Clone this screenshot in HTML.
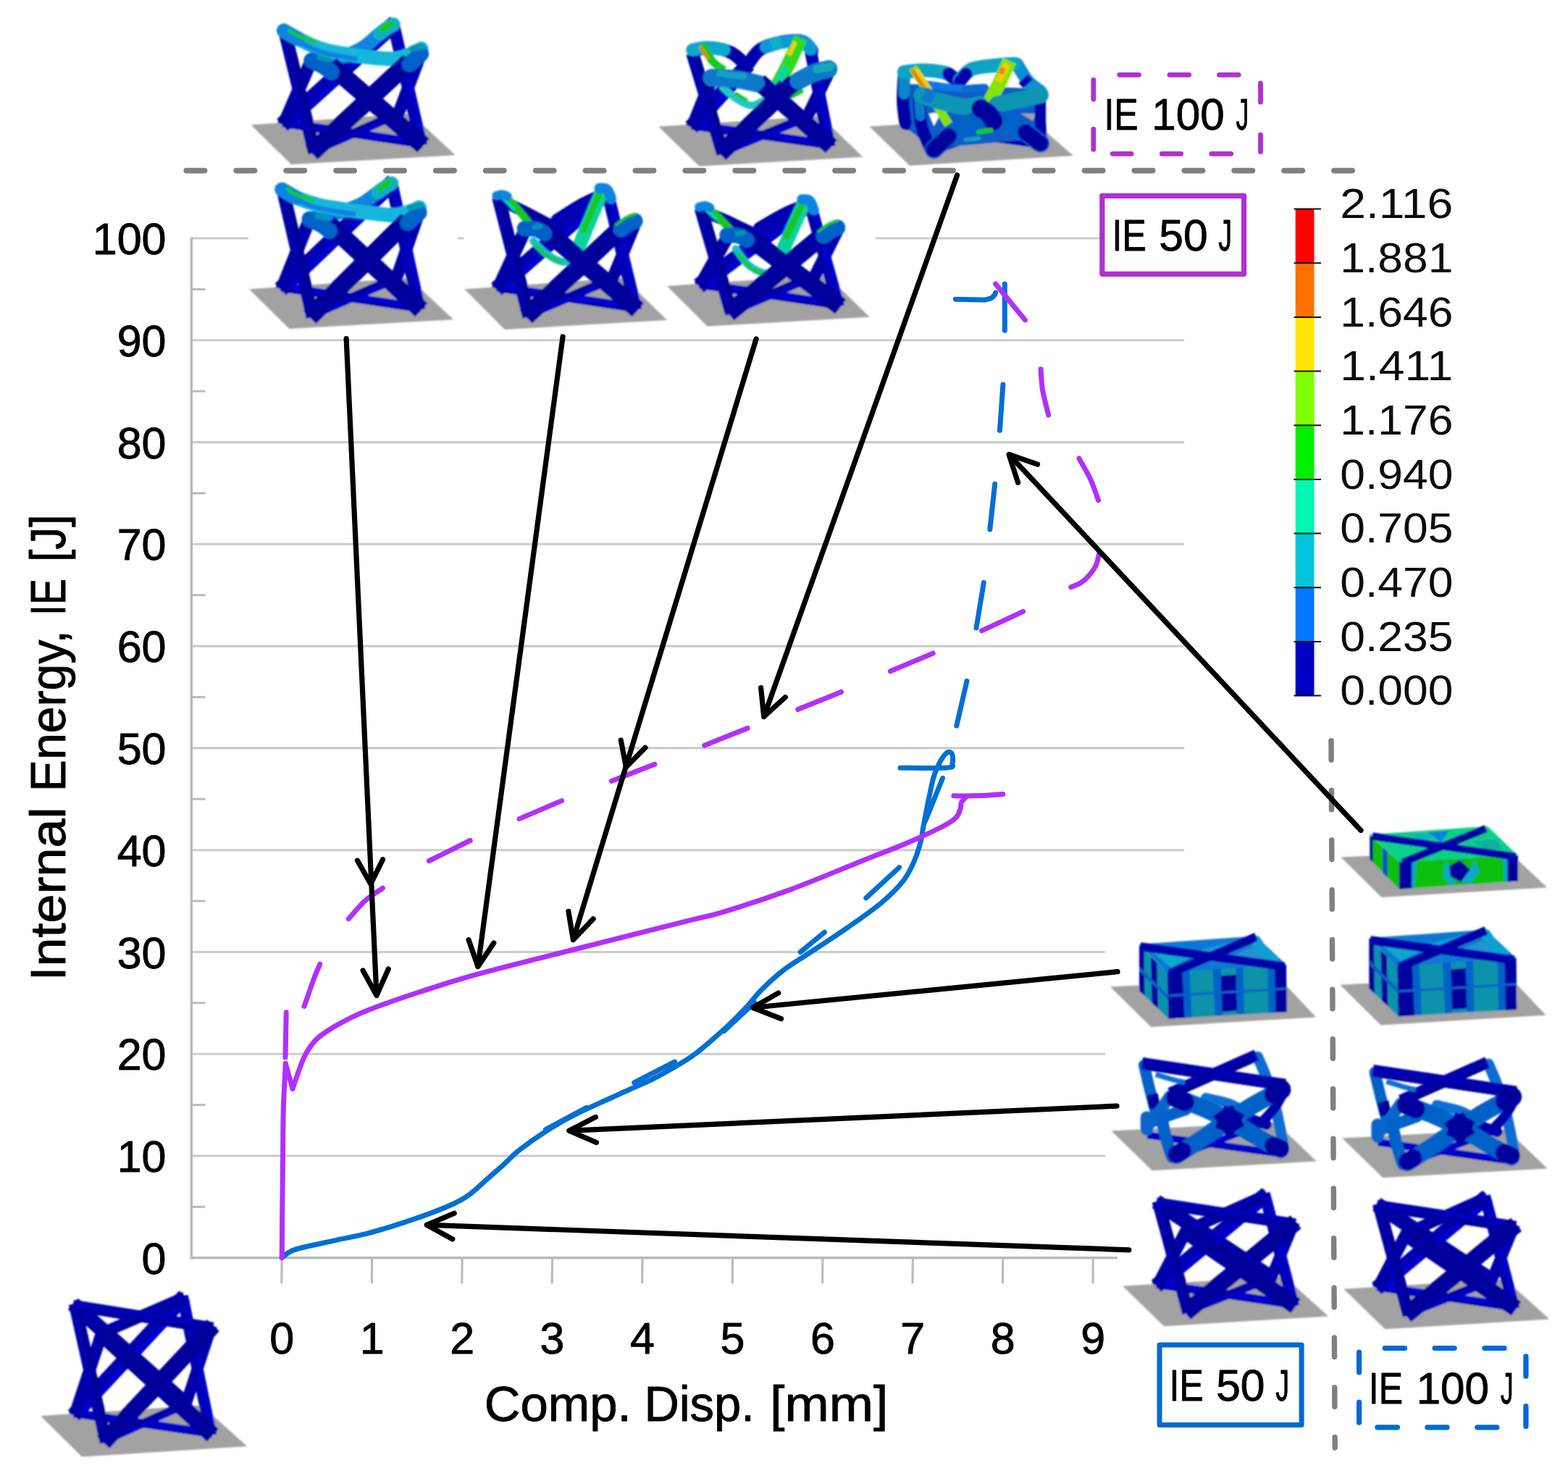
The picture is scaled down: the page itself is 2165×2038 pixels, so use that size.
<!DOCTYPE html>
<html lang="en"><head><meta charset="utf-8"><title>Internal Energy vs Compressive Displacement</title>
<style>html,body{margin:0;padding:0;background:#fff}body{width:2165px;height:2038px;overflow:hidden}svg{display:block}</style></head>
<body>
<svg width="2165" height="2038" viewBox="0 0 2165 2038" font-family="'Liberation Sans', sans-serif">
<rect width="100%" height="100%" fill="#fff"/>
<g id="grid"><line x1="265" y1="1596.0" x2="1635" y2="1596.0" stroke="#cbcbcb" stroke-width="3.1"/>
<line x1="265" y1="1455.2" x2="1635" y2="1455.2" stroke="#cbcbcb" stroke-width="3.1"/>
<line x1="265" y1="1314.5" x2="1635" y2="1314.5" stroke="#cbcbcb" stroke-width="3.1"/>
<line x1="265" y1="1173.7" x2="1635" y2="1173.7" stroke="#cbcbcb" stroke-width="3.1"/>
<line x1="265" y1="1032.9" x2="1635" y2="1032.9" stroke="#cbcbcb" stroke-width="3.1"/>
<line x1="265" y1="892.1" x2="1635" y2="892.1" stroke="#cbcbcb" stroke-width="3.1"/>
<line x1="265" y1="751.3" x2="1635" y2="751.3" stroke="#cbcbcb" stroke-width="3.1"/>
<line x1="265" y1="610.6" x2="1635" y2="610.6" stroke="#cbcbcb" stroke-width="3.1"/>
<line x1="265" y1="469.8" x2="1635" y2="469.8" stroke="#cbcbcb" stroke-width="3.1"/>
<line x1="265" y1="329.0" x2="1635" y2="329.0" stroke="#cbcbcb" stroke-width="3.1"/>
<line x1="264.3" y1="1666.4" x2="283.5" y2="1666.4" stroke="#bababa" stroke-width="3"/>
<line x1="264.3" y1="1525.6" x2="283.5" y2="1525.6" stroke="#bababa" stroke-width="3"/>
<line x1="264.3" y1="1384.8" x2="283.5" y2="1384.8" stroke="#bababa" stroke-width="3"/>
<line x1="264.3" y1="1244.1" x2="283.5" y2="1244.1" stroke="#bababa" stroke-width="3"/>
<line x1="264.3" y1="1103.3" x2="283.5" y2="1103.3" stroke="#bababa" stroke-width="3"/>
<line x1="264.3" y1="962.5" x2="283.5" y2="962.5" stroke="#bababa" stroke-width="3"/>
<line x1="264.3" y1="821.7" x2="283.5" y2="821.7" stroke="#bababa" stroke-width="3"/>
<line x1="264.3" y1="681.0" x2="283.5" y2="681.0" stroke="#bababa" stroke-width="3"/>
<line x1="264.3" y1="540.2" x2="283.5" y2="540.2" stroke="#bababa" stroke-width="3"/>
<line x1="264.3" y1="399.4" x2="283.5" y2="399.4" stroke="#bababa" stroke-width="3"/>
<line x1="264.3" y1="327.5" x2="264.3" y2="1738.6" stroke="#bababa" stroke-width="3.5"/>
<line x1="262.6" y1="1736.8" x2="1543" y2="1736.8" stroke="#bababa" stroke-width="3.6"/>
<line x1="389.2" y1="1736.8" x2="388.9" y2="1772.3" stroke="#bababa" stroke-width="3.1"/>
<line x1="513.6" y1="1736.8" x2="513.4" y2="1772.3" stroke="#bababa" stroke-width="3.1"/>
<line x1="638.1" y1="1736.8" x2="637.8" y2="1772.3" stroke="#bababa" stroke-width="3.1"/>
<line x1="762.5" y1="1736.8" x2="762.2" y2="1772.3" stroke="#bababa" stroke-width="3.1"/>
<line x1="887.0" y1="1736.8" x2="886.7" y2="1772.3" stroke="#bababa" stroke-width="3.1"/>
<line x1="1011.5" y1="1736.8" x2="1011.2" y2="1772.3" stroke="#bababa" stroke-width="3.1"/>
<line x1="1135.9" y1="1736.8" x2="1135.6" y2="1772.3" stroke="#bababa" stroke-width="3.1"/>
<line x1="1260.3" y1="1736.8" x2="1260.0" y2="1772.3" stroke="#bababa" stroke-width="3.1"/>
<line x1="1384.8" y1="1736.8" x2="1384.5" y2="1772.3" stroke="#bababa" stroke-width="3.1"/>
<line x1="1509.2" y1="1736.8" x2="1509.0" y2="1772.3" stroke="#bababa" stroke-width="3.1"/></g>
<g id="boxes"><line x1="1545.8" y1="103.3" x2="1572.5" y2="103.3" stroke="#b030d2" stroke-width="6.8" stroke-linecap="round"/>
<line x1="1615.0" y1="103.3" x2="1641.7" y2="103.3" stroke="#b030d2" stroke-width="6.8" stroke-linecap="round"/>
<line x1="1683.5" y1="103.3" x2="1710.2" y2="103.3" stroke="#b030d2" stroke-width="6.8" stroke-linecap="round"/>
<line x1="1536.2" y1="212.3" x2="1562.1" y2="212.3" stroke="#b030d2" stroke-width="6.8" stroke-linecap="round"/>
<line x1="1604.3" y1="212.3" x2="1630.6" y2="212.3" stroke="#b030d2" stroke-width="6.8" stroke-linecap="round"/>
<line x1="1672.8" y1="212.3" x2="1699.8" y2="212.3" stroke="#b030d2" stroke-width="6.8" stroke-linecap="round"/>
<line x1="1740.5" y1="115.0" x2="1740.5" y2="140.9" stroke="#b030d2" stroke-width="6.8" stroke-linecap="round"/>
<line x1="1740.5" y1="186.2" x2="1740.5" y2="209.6" stroke="#b030d2" stroke-width="6.8" stroke-linecap="round"/>
<line x1="1509.8" y1="110.4" x2="1509.8" y2="137.1" stroke="#b030d2" stroke-width="6.8" stroke-linecap="round"/>
<line x1="1509.8" y1="178.4" x2="1509.8" y2="206.3" stroke="#b030d2" stroke-width="6.8" stroke-linecap="round"/>
<rect x="1521.8" y="270.4" width="195.8" height="107.9" fill="#fff" stroke="#b030d2" stroke-width="7.2" stroke-linejoin="round"/>
<rect x="1601" y="1857.1" width="196.1" height="110.4" fill="#fff" stroke="#0069d6" stroke-width="7" stroke-linejoin="round"/>
<line x1="1912.2" y1="1861.5" x2="1939.5" y2="1861.5" stroke="#0069d6" stroke-width="7.2" stroke-linecap="round"/>
<line x1="1981.1" y1="1861.5" x2="2008.2" y2="1861.5" stroke="#0069d6" stroke-width="7.2" stroke-linecap="round"/>
<line x1="2049.9" y1="1861.5" x2="2077.1" y2="1861.5" stroke="#0069d6" stroke-width="7.2" stroke-linecap="round"/>
<line x1="1901.9" y1="1970.8" x2="1929.5" y2="1970.8" stroke="#0069d6" stroke-width="7.2" stroke-linecap="round"/>
<line x1="1970.9" y1="1970.8" x2="1998.1" y2="1970.8" stroke="#0069d6" stroke-width="7.2" stroke-linecap="round"/>
<line x1="2039.8" y1="1970.8" x2="2066.9" y2="1970.8" stroke="#0069d6" stroke-width="7.2" stroke-linecap="round"/>
<line x1="2106.9" y1="1872.8" x2="2106.9" y2="1900.2" stroke="#0069d6" stroke-width="7.2" stroke-linecap="round"/>
<line x1="2106.9" y1="1941.7" x2="2106.9" y2="1969.5" stroke="#0069d6" stroke-width="7.2" stroke-linecap="round"/>
<line x1="1876.6" y1="1867.0" x2="1876.6" y2="1894.8" stroke="#0069d6" stroke-width="7.2" stroke-linecap="round"/>
<line x1="1876.6" y1="1936.2" x2="1876.6" y2="1964.1" stroke="#0069d6" stroke-width="7.2" stroke-linecap="round"/></g>
<g id="imgbg"><rect x="343" y="240" width="289" height="222" fill="#fff"/>
<rect x="640.7" y="240" width="568" height="222" fill="#fff"/>
<rect x="1526" y="1280" width="300" height="340" fill="#fff"/>
<rect x="1543.5" y="1640" width="300" height="200" fill="#fff"/></g>
<g id="sep"><line x1="257.2" y1="235.6" x2="1868" y2="235.6" stroke="#808080" stroke-width="7.6" stroke-dasharray="25.4 43.5" stroke-linecap="round"/>
<line x1="1838" y1="1022.6" x2="1843.2" y2="1999" stroke="#808080" stroke-width="7.4" stroke-dasharray="26.6 42.1" stroke-linecap="round"/></g>
<defs><filter id="soft" x="-2%" y="-2%" width="104%" height="104%"><feGaussianBlur stdDeviation="0.8"/></filter></defs>
<g id="lattices" filter="url(#soft)"><g id="BL"><polygon points="56.1,1955.1 278.2,1940.3 341.0,1997.0 113.2,2011.4" fill="#a2a2a2" /><line x1="107.7" y1="1952.1" x2="287.1" y2="1978.4" stroke="#0000d4" stroke-width="11.6" stroke-linecap="square"/><line x1="107.2" y1="1955.4" x2="286.6" y2="1981.7" stroke="#0000b0" stroke-width="4.9" stroke-linecap="butt"/><line x1="253.1" y1="1940.5" x2="148.8" y2="1987.1" stroke="#0000c0" stroke-width="11.6" stroke-linecap="square"/><line x1="251.7" y1="1937.5" x2="147.4" y2="1984.0" stroke="#0000a4" stroke-width="4.9" stroke-linecap="butt"/><line x1="108.6" y1="1807.4" x2="251.5" y2="1934.6" stroke="#0000a4" stroke-width="20.9" stroke-linecap="square"/><line x1="247.9" y1="1797.1" x2="108.6" y2="1946.7" stroke="#0000b4" stroke-width="20.9" stroke-linecap="square"/><line x1="252.4" y1="1801.2" x2="113.1" y2="1950.8" stroke="#0000cc" stroke-width="8.8" stroke-linecap="butt"/><line x1="289.8" y1="1837.9" x2="258.1" y2="1934.2" stroke="#0000a8" stroke-width="15.8" stroke-linecap="square"/><line x1="253.5" y1="1797.2" x2="289.8" y2="1974.0" stroke="#0000b4" stroke-width="15.8" stroke-linecap="square"/><line x1="258.0" y1="1796.2" x2="294.3" y2="1973.1" stroke="#0000c8" stroke-width="6.6" stroke-linecap="butt"/><line x1="138.9" y1="1845.9" x2="105.7" y2="1946.5" stroke="#0000a8" stroke-width="16.7" stroke-linecap="square"/><line x1="104.8" y1="1808.2" x2="144.3" y2="1983.4" stroke="#0000ac" stroke-width="16.7" stroke-linecap="square"/><line x1="109.5" y1="1807.2" x2="149.0" y2="1982.3" stroke="#000098" stroke-width="7.0" stroke-linecap="butt"/><line x1="247.8" y1="1794.2" x2="145.2" y2="1838.8" stroke="#0000b0" stroke-width="15.8" stroke-linecap="square"/><line x1="249.7" y1="1798.4" x2="147.1" y2="1843.0" stroke="#000098" stroke-width="6.6" stroke-linecap="butt"/><line x1="108.6" y1="1803.8" x2="286.4" y2="1832.3" stroke="#0000b4" stroke-width="15.8" stroke-linecap="square"/><line x1="107.8" y1="1808.3" x2="285.7" y2="1836.8" stroke="#0000a0" stroke-width="6.6" stroke-linecap="butt"/><line x1="146.1" y1="1845.9" x2="285.2" y2="1973.8" stroke="#00009c" stroke-width="23.5" stroke-linecap="square"/><line x1="286.3" y1="1838.6" x2="150.6" y2="1983.1" stroke="#00009c" stroke-width="23.5" stroke-linecap="square"/></g>
<g id="R50_3"><polygon points="1550.1,1775.7 1773.1,1762.3 1834.2,1817.5 1607.3,1831.2" fill="#a2a2a2" /><line x1="1602.9" y1="1773.8" x2="1781.9" y2="1800.4" stroke="#0000d4" stroke-width="11.6" stroke-linecap="square"/><line x1="1602.4" y1="1777.1" x2="1781.5" y2="1803.7" stroke="#0000b0" stroke-width="4.9" stroke-linecap="butt"/><line x1="1751.9" y1="1765.8" x2="1643.2" y2="1808.6" stroke="#0000c0" stroke-width="11.6" stroke-linecap="square"/><line x1="1750.7" y1="1762.6" x2="1642.0" y2="1805.5" stroke="#0000a4" stroke-width="4.9" stroke-linecap="butt"/><line x1="1605.1" y1="1665.1" x2="1749.8" y2="1760.7" stroke="#0000a4" stroke-width="20.9" stroke-linecap="square"/><line x1="1741.4" y1="1654.9" x2="1604.4" y2="1769.0" stroke="#0000b4" stroke-width="20.9" stroke-linecap="square"/><line x1="1745.2" y1="1659.6" x2="1608.2" y2="1773.6" stroke="#0000cc" stroke-width="8.8" stroke-linecap="butt"/><line x1="1784.0" y1="1694.5" x2="1757.3" y2="1759.7" stroke="#0000a8" stroke-width="15.8" stroke-linecap="square"/><line x1="1747.8" y1="1655.5" x2="1784.3" y2="1796.1" stroke="#0000b4" stroke-width="15.8" stroke-linecap="square"/><line x1="1752.2" y1="1654.3" x2="1788.8" y2="1794.9" stroke="#0000c8" stroke-width="6.6" stroke-linecap="butt"/><line x1="1635.1" y1="1704.3" x2="1601.7" y2="1768.5" stroke="#0000a8" stroke-width="16.7" stroke-linecap="square"/><line x1="1600.9" y1="1666.6" x2="1638.4" y2="1804.8" stroke="#0000ac" stroke-width="16.7" stroke-linecap="square"/><line x1="1605.6" y1="1665.3" x2="1643.1" y2="1803.5" stroke="#000098" stroke-width="7.0" stroke-linecap="butt"/><line x1="1741.9" y1="1652.7" x2="1642.1" y2="1697.5" stroke="#0000b0" stroke-width="15.8" stroke-linecap="square"/><line x1="1743.8" y1="1656.8" x2="1644.0" y2="1701.6" stroke="#000098" stroke-width="6.6" stroke-linecap="butt"/><line x1="1604.5" y1="1662.2" x2="1780.9" y2="1689.1" stroke="#0000b4" stroke-width="15.8" stroke-linecap="square"/><line x1="1603.8" y1="1666.7" x2="1780.3" y2="1693.6" stroke="#0000a0" stroke-width="6.6" stroke-linecap="butt"/><line x1="1643.7" y1="1703.8" x2="1779.4" y2="1796.7" stroke="#00009c" stroke-width="23.5" stroke-linecap="square"/><line x1="1780.1" y1="1694.7" x2="1645.6" y2="1805.2" stroke="#00009c" stroke-width="23.5" stroke-linecap="square"/></g>
<g id="R100_3"><polygon points="1855.3,1779.7 2078.2,1766.3 2139.4,1821.5 1912.4,1835.2" fill="#a2a2a2" /><line x1="1907.2" y1="1777.3" x2="2086.3" y2="1803.9" stroke="#0000d4" stroke-width="11.6" stroke-linecap="square"/><line x1="1906.8" y1="1780.7" x2="2085.8" y2="1807.3" stroke="#0000b0" stroke-width="4.9" stroke-linecap="butt"/><line x1="2056.3" y1="1769.3" x2="1947.6" y2="1812.1" stroke="#0000c0" stroke-width="11.6" stroke-linecap="square"/><line x1="2055.0" y1="1766.2" x2="1946.4" y2="1809.0" stroke="#0000a4" stroke-width="4.9" stroke-linecap="butt"/><line x1="1909.5" y1="1668.6" x2="2054.1" y2="1764.3" stroke="#0000a4" stroke-width="20.9" stroke-linecap="square"/><line x1="2045.7" y1="1658.4" x2="1908.7" y2="1772.5" stroke="#0000b4" stroke-width="20.9" stroke-linecap="square"/><line x1="2049.6" y1="1663.1" x2="1912.6" y2="1777.2" stroke="#0000cc" stroke-width="8.8" stroke-linecap="butt"/><line x1="2088.4" y1="1698.1" x2="2061.6" y2="1763.3" stroke="#0000a8" stroke-width="15.8" stroke-linecap="square"/><line x1="2052.1" y1="1659.0" x2="2088.7" y2="1799.6" stroke="#0000b4" stroke-width="15.8" stroke-linecap="square"/><line x1="2056.6" y1="1657.9" x2="2093.1" y2="1798.4" stroke="#0000c8" stroke-width="6.6" stroke-linecap="butt"/><line x1="1939.4" y1="1707.8" x2="1906.1" y2="1772.0" stroke="#0000a8" stroke-width="16.7" stroke-linecap="square"/><line x1="1905.3" y1="1670.1" x2="1942.7" y2="1808.3" stroke="#0000ac" stroke-width="16.7" stroke-linecap="square"/><line x1="1910.0" y1="1668.8" x2="1947.4" y2="1807.1" stroke="#000098" stroke-width="7.0" stroke-linecap="butt"/><line x1="2046.3" y1="1656.2" x2="1946.5" y2="1701.0" stroke="#0000b0" stroke-width="15.8" stroke-linecap="square"/><line x1="2048.1" y1="1660.4" x2="1948.4" y2="1705.2" stroke="#000098" stroke-width="6.6" stroke-linecap="butt"/><line x1="1908.9" y1="1665.7" x2="2085.3" y2="1692.7" stroke="#0000b4" stroke-width="15.8" stroke-linecap="square"/><line x1="1908.2" y1="1670.2" x2="2084.6" y2="1697.2" stroke="#0000a0" stroke-width="6.6" stroke-linecap="butt"/><line x1="1948.1" y1="1707.3" x2="2083.8" y2="1800.2" stroke="#00009c" stroke-width="23.5" stroke-linecap="square"/><line x1="2084.5" y1="1698.2" x2="1950.0" y2="1808.7" stroke="#00009c" stroke-width="23.5" stroke-linecap="square"/></g>
<g id="M1"><polygon points="343.9,399.3 564.6,383.6 626.1,441.2 399.5,454.0" fill="#a2a2a2" /><line x1="394.0" y1="397.3" x2="574.7" y2="424.4" stroke="#0000d4" stroke-width="12.3" stroke-linecap="square"/><line x1="393.5" y1="400.9" x2="574.2" y2="427.9" stroke="#0000b0" stroke-width="5.2" stroke-linecap="butt"/><line x1="543.9" y1="385.5" x2="434.4" y2="433.3" stroke="#0000c0" stroke-width="12.3" stroke-linecap="square"/><line x1="542.4" y1="382.2" x2="433.0" y2="430.0" stroke="#0000a4" stroke-width="5.2" stroke-linecap="butt"/><line x1="535.5" y1="258.0" x2="395.3" y2="391.8" stroke="#0000b4" stroke-width="22.2" stroke-linecap="square"/><line x1="539.9" y1="262.7" x2="399.7" y2="396.5" stroke="#0000cc" stroke-width="9.3" stroke-linecap="butt"/><line x1="576.8" y1="298.7" x2="549.2" y2="378.9" stroke="#0000a8" stroke-width="16.8" stroke-linecap="square"/><line x1="541.8" y1="258.3" x2="577.4" y2="419.7" stroke="#0000b4" stroke-width="16.8" stroke-linecap="square"/><line x1="546.5" y1="257.3" x2="582.2" y2="418.7" stroke="#0000c8" stroke-width="7.0" stroke-linecap="butt"/><line x1="425.3" y1="308.0" x2="392.2" y2="391.5" stroke="#0000a8" stroke-width="17.8" stroke-linecap="square"/><line x1="391.8" y1="268.0" x2="429.5" y2="429.3" stroke="#0000ac" stroke-width="17.8" stroke-linecap="square"/><line x1="396.8" y1="266.9" x2="434.5" y2="428.2" stroke="#000098" stroke-width="7.5" stroke-linecap="butt"/><path d="M540.6,253.1C537.8,254.9 530.4,259.5 523.5,264.2C516.7,268.9 507.8,276.7 499.6,281.3C491.3,285.9 482.5,288.6 473.9,291.6C465.4,294.6 455.7,297.7 448.3,299.3C440.9,300.8 432.6,300.7 429.5,301.0" fill="none" stroke="#0a84e0" stroke-width="18.8" stroke-linecap="round" stroke-linejoin="round" /><path d="M540.6,253.1C538.9,254.1 533.5,256.9 530.4,259.1C527.2,261.2 523.2,264.8 521.8,265.9" fill="none" stroke="#10b0c8" stroke-width="18.8" stroke-linecap="round" stroke-linejoin="round" /><path d="M537.2,251.4C535.2,252.8 527.2,258.5 525.2,259.9" fill="none" stroke="#14c81c" stroke-width="8.6" stroke-linecap="round" stroke-linejoin="round" /><path d="M389.3,261.6C392.5,263.5 400.5,269.2 408.9,272.8C417.3,276.3 428.9,280.3 439.7,283.0C450.5,285.7 462.5,287.2 473.9,289.0C485.3,290.8 496.7,292.3 508.1,293.6C519.5,295.0 532.9,297.2 542.3,297.0C551.7,296.8 558.4,294.2 564.6,292.4C570.7,290.7 576.7,287.4 579.1,286.4" fill="none" stroke="#12b6dc" stroke-width="19.8" stroke-linecap="round" stroke-linejoin="round" /><path d="M408.9,276.2C414.1,278.0 428.9,284.4 439.7,287.3C450.5,290.1 465.4,291.9 473.9,293.3C482.5,294.7 488.2,295.4 491.0,295.8" fill="none" stroke="#0a84e0" stroke-width="6.8" stroke-linecap="butt" stroke-linejoin="round" /><path d="M389.3,261.6C390.5,262.4 393.7,264.1 397.0,265.9C400.2,267.8 406.9,271.6 408.9,272.8" fill="none" stroke="#0a84e0" stroke-width="19.8" stroke-linecap="round" stroke-linejoin="round" /><path d="M397.0,261.6C399.5,263.1 406.4,267.6 412.4,270.2C418.3,272.8 429.5,275.9 432.9,277.0" fill="none" stroke="#14c81c" stroke-width="5.1" stroke-linecap="round" stroke-linejoin="round" /><line x1="462.7" y1="317.2" x2="572.7" y2="419.5" stroke="#00009c" stroke-width="25.0" stroke-linecap="square"/><line x1="553.8" y1="312.9" x2="436.5" y2="429.3" stroke="#00009c" stroke-width="25.0" stroke-linecap="square"/><path d="M427.4,302.7C430.0,304.0 438.5,307.7 443.1,310.4C447.8,313.1 453.1,317.5 455.1,318.9" fill="none" stroke="#0062c8" stroke-width="21.9" stroke-linecap="round" stroke-linejoin="round" /><path d="M578.6,293.6C577.1,295.0 572.3,299.5 569.7,301.8C567.1,304.2 564.0,306.8 562.9,307.8" fill="none" stroke="#0062c8" stroke-width="21.9" stroke-linecap="round" stroke-linejoin="round" /><path d="M566.3,286.4C568.6,286.0 577.7,284.3 580.0,283.9" fill="none" stroke="#0096ae" stroke-width="8.6" stroke-linecap="round" stroke-linejoin="round" /><path d="M438.0,298.4C440.0,299.0 448.0,301.3 450.0,301.8" fill="none" stroke="#0096ae" stroke-width="6.8" stroke-linecap="round" stroke-linejoin="round" /></g>
<g id="T1"><polygon points="346.5,172.4 567.1,156.7 628.7,214.3 402.1,227.1" fill="#a2a2a2" /><line x1="396.6" y1="170.4" x2="577.3" y2="197.5" stroke="#0000d4" stroke-width="12.3" stroke-linecap="square"/><line x1="396.1" y1="173.9" x2="576.7" y2="201.0" stroke="#0000b0" stroke-width="5.2" stroke-linecap="butt"/><line x1="546.4" y1="158.6" x2="437.0" y2="206.4" stroke="#0000c0" stroke-width="12.3" stroke-linecap="square"/><line x1="545.0" y1="155.3" x2="435.6" y2="203.1" stroke="#0000a4" stroke-width="5.2" stroke-linecap="butt"/><line x1="537.9" y1="38.6" x2="398.0" y2="165.1" stroke="#0000b4" stroke-width="22.2" stroke-linecap="square"/><line x1="542.2" y1="43.4" x2="402.3" y2="169.8" stroke="#0000cc" stroke-width="9.3" stroke-linecap="butt"/><line x1="579.3" y1="79.4" x2="551.9" y2="152.0" stroke="#0000a8" stroke-width="16.8" stroke-linecap="square"/><line x1="544.4" y1="39.1" x2="579.9" y2="192.8" stroke="#0000b4" stroke-width="16.8" stroke-linecap="square"/><line x1="549.1" y1="38.0" x2="584.7" y2="191.7" stroke="#0000c8" stroke-width="7.0" stroke-linecap="butt"/><line x1="427.7" y1="88.7" x2="394.9" y2="164.6" stroke="#0000a8" stroke-width="17.8" stroke-linecap="square"/><line x1="394.4" y1="48.8" x2="432.0" y2="202.4" stroke="#0000ac" stroke-width="17.8" stroke-linecap="square"/><line x1="399.4" y1="47.6" x2="437.0" y2="201.2" stroke="#000098" stroke-width="7.5" stroke-linecap="butt"/><path d="M543.2,33.9C540.3,35.7 532.9,39.8 526.1,45.0C519.2,50.2 510.4,59.6 502.1,65.0C493.9,70.3 485.0,74.1 476.5,77.1C467.9,80.2 458.2,82.6 450.8,83.4C443.4,84.2 435.2,82.0 432.0,81.8" fill="none" stroke="#0a84e0" stroke-width="18.8" stroke-linecap="round" stroke-linejoin="round" /><path d="M543.2,33.9C541.5,34.9 536.1,37.7 532.9,39.8C529.8,42.0 525.8,45.5 524.4,46.7" fill="none" stroke="#10b0c8" stroke-width="18.8" stroke-linecap="round" stroke-linejoin="round" /><path d="M539.8,32.2C537.8,33.6 529.8,39.3 527.8,40.7" fill="none" stroke="#14c81c" stroke-width="8.6" stroke-linecap="round" stroke-linejoin="round" /><path d="M391.8,42.4C395.1,44.3 403.1,49.4 411.5,53.5C419.9,57.7 431.5,63.6 442.3,67.1C453.1,70.7 465.1,72.6 476.5,74.6C487.9,76.6 499.3,78.1 510.7,79.2C522.1,80.3 535.5,81.9 544.9,81.2C554.3,80.4 561.0,77.0 567.1,74.6C573.3,72.3 579.2,68.5 581.7,67.2" fill="none" stroke="#12b6dc" stroke-width="19.8" stroke-linecap="round" stroke-linejoin="round" /><path d="M411.5,57.0C416.6,59.4 431.5,67.8 442.3,71.4C453.1,75.1 467.9,77.2 476.5,78.8C485.0,80.5 490.7,81.0 493.6,81.4" fill="none" stroke="#0a84e0" stroke-width="6.8" stroke-linecap="butt" stroke-linejoin="round" /><path d="M391.8,42.4C393.1,43.1 396.2,44.8 399.5,46.7C402.8,48.5 409.5,52.4 411.5,53.5" fill="none" stroke="#0a84e0" stroke-width="19.8" stroke-linecap="round" stroke-linejoin="round" /><path d="M399.5,42.4C402.1,43.8 408.9,48.4 414.9,51.0C420.9,53.5 432.0,56.7 435.4,57.8" fill="none" stroke="#14c81c" stroke-width="5.1" stroke-linecap="round" stroke-linejoin="round" /><line x1="465.4" y1="97.8" x2="575.1" y2="192.8" stroke="#00009c" stroke-width="25.0" stroke-linecap="square"/><line x1="556.2" y1="93.5" x2="439.2" y2="202.5" stroke="#00009c" stroke-width="25.0" stroke-linecap="square"/><path d="M430.0,83.5C432.6,84.7 441.1,88.4 445.7,91.2C450.3,93.9 455.7,98.3 457.7,99.7" fill="none" stroke="#0062c8" stroke-width="21.9" stroke-linecap="round" stroke-linejoin="round" /><path d="M581.2,74.4C579.7,75.8 574.9,80.2 572.3,82.6C569.6,85.0 566.6,87.6 565.4,88.6" fill="none" stroke="#0062c8" stroke-width="21.9" stroke-linecap="round" stroke-linejoin="round" /><path d="M568.8,67.2C571.1,66.8 580.2,65.1 582.5,64.6" fill="none" stroke="#0096ae" stroke-width="8.6" stroke-linecap="round" stroke-linejoin="round" /><path d="M440.6,79.2C442.6,79.8 450.5,82.0 452.5,82.6" fill="none" stroke="#0096ae" stroke-width="6.8" stroke-linecap="round" stroke-linejoin="round" /></g>
<g id="M2"><polygon points="641.4,399.3 861.1,383.6 921.0,442.1 697.0,454.9" fill="#a2a2a2" /><line x1="692.3" y1="397.3" x2="873.5" y2="424.4" stroke="#0000d4" stroke-width="12.3" stroke-linecap="square"/><line x1="691.8" y1="400.9" x2="873.0" y2="427.9" stroke="#0000b0" stroke-width="5.2" stroke-linecap="butt"/><line x1="842.1" y1="386.3" x2="733.1" y2="432.8" stroke="#0000c0" stroke-width="12.3" stroke-linecap="square"/><line x1="840.7" y1="383.0" x2="731.7" y2="429.5" stroke="#0000a4" stroke-width="5.2" stroke-linecap="butt"/><line x1="833.2" y1="269.8" x2="693.8" y2="392.1" stroke="#0000b4" stroke-width="22.2" stroke-linecap="square"/><line x1="837.5" y1="274.6" x2="698.0" y2="396.9" stroke="#0000cc" stroke-width="9.3" stroke-linecap="butt"/><line x1="875.4" y1="312.8" x2="847.8" y2="379.8" stroke="#0000a8" stroke-width="16.8" stroke-linecap="square"/><line x1="839.8" y1="270.3" x2="876.1" y2="419.8" stroke="#0000b4" stroke-width="16.8" stroke-linecap="square"/><line x1="844.6" y1="269.1" x2="880.9" y2="418.6" stroke="#0000c8" stroke-width="7.0" stroke-linecap="butt"/><line x1="722.8" y1="322.4" x2="690.8" y2="391.6" stroke="#0000a8" stroke-width="17.8" stroke-linecap="square"/><line x1="690.2" y1="280.8" x2="728.0" y2="428.9" stroke="#0000ac" stroke-width="17.8" stroke-linecap="square"/><line x1="695.2" y1="279.6" x2="733.0" y2="427.6" stroke="#000098" stroke-width="7.5" stroke-linecap="butt"/><path d="M688.8,274.8C694.4,277.6 710.4,285.4 722.6,291.6C734.8,297.8 755.4,308.7 762.0,312.1" fill="none" stroke="#0000a4" stroke-width="16.4" stroke-linecap="round" stroke-linejoin="round" /><path d="M838.6,265.1C832.9,267.8 816.3,274.9 804.7,281.3C793.1,287.7 774.8,299.8 768.8,303.5" fill="none" stroke="#0000b0" stroke-width="16.4" stroke-linecap="round" stroke-linejoin="round" /><path d="M736.3,332.6C739.1,335.5 747.1,345.0 753.4,349.7C759.7,354.4 768.1,359.0 773.9,360.8C779.8,362.7 786.0,360.8 788.5,360.8" fill="none" stroke="#18c0c8" stroke-width="10.3" stroke-linecap="round" stroke-linejoin="round" /><path d="M739.7,339.5C742.6,341.9 751.1,350.3 756.8,354.0C762.5,357.7 771.1,360.4 773.9,361.7" fill="none" stroke="#14c81c" stroke-width="4.4" stroke-linecap="round" stroke-linejoin="round" /><path d="M697.0,271.0C699.5,273.6 706.7,280.2 712.4,286.4C718.1,292.7 728.0,305.0 731.2,308.7" fill="none" stroke="#14c81c" stroke-width="10.6" stroke-linecap="round" stroke-linejoin="round" /><path d="M693.5,272.8C696.1,275.5 706.4,286.3 708.9,289.0" fill="none" stroke="#00d8b4" stroke-width="4.1" stroke-linecap="round" stroke-linejoin="round" /><path d="M832.9,259.9C830.2,266.3 822.7,284.0 816.7,298.4C810.7,312.8 800.3,338.3 797.0,346.3" fill="none" stroke="#10d0a0" stroke-width="19.2" stroke-linecap="butt" stroke-linejoin="round" /><path d="M829.5,262.5C827.1,268.2 819.1,287.0 815.0,296.7C810.8,306.4 806.4,316.7 804.7,320.6" fill="none" stroke="#14c81c" stroke-width="8.6" stroke-linecap="butt" stroke-linejoin="round" /><path d="M685.8,270.2C687.1,269.9 691.1,268.3 693.5,268.5C696.0,268.6 699.2,270.6 700.4,271.0" fill="none" stroke="#0a84e0" stroke-width="12.7" stroke-linecap="round" stroke-linejoin="round" /><path d="M827.8,259.9C829.5,260.2 835.4,259.2 838.1,261.6C840.8,264.1 843.0,272.3 844.0,274.5" fill="none" stroke="#0a84e0" stroke-width="14.4" stroke-linecap="round" stroke-linejoin="round" /><line x1="761.1" y1="324.2" x2="871.4" y2="419.7" stroke="#00009c" stroke-width="25.0" stroke-linecap="square"/><line x1="851.0" y1="321.0" x2="735.3" y2="428.9" stroke="#00009c" stroke-width="25.0" stroke-linecap="square"/><path d="M724.3,315.5C726.9,315.7 735.2,315.2 739.7,316.4C744.3,317.5 749.7,321.4 751.7,322.4" fill="none" stroke="#0062c8" stroke-width="21.2" stroke-linecap="round" stroke-linejoin="round" /><path d="M876.5,305.3C874.8,306.1 869.4,308.5 866.3,310.4C863.1,312.2 859.2,315.4 857.7,316.4" fill="none" stroke="#0062c8" stroke-width="22.2" stroke-linecap="round" stroke-linejoin="round" /><path d="M738.0,313.8C739.4,313.5 745.1,312.4 746.6,312.1" fill="none" stroke="#0096ae" stroke-width="6.8" stroke-linecap="round" stroke-linejoin="round" /><path d="M850.9,310.4C853.2,308.7 860.3,302.5 864.6,300.1C868.8,297.7 874.5,296.6 876.5,295.8" fill="none" stroke="#14c81c" stroke-width="3.8" stroke-linecap="round" stroke-linejoin="round" /></g>
<g id="M3"><polygon points="921.0,395.0 1140.8,379.3 1200.7,437.8 976.6,450.6" fill="#a2a2a2" /><line x1="972.0" y1="393.1" x2="1153.2" y2="420.1" stroke="#0000d4" stroke-width="12.3" stroke-linecap="square"/><line x1="971.4" y1="396.6" x2="1152.6" y2="423.6" stroke="#0000b0" stroke-width="5.2" stroke-linecap="butt"/><line x1="1121.8" y1="382.0" x2="1012.7" y2="428.6" stroke="#0000c0" stroke-width="12.3" stroke-linecap="square"/><line x1="1120.4" y1="378.8" x2="1011.3" y2="425.3" stroke="#0000a4" stroke-width="5.2" stroke-linecap="butt"/><line x1="1112.5" y1="284.9" x2="973.8" y2="388.2" stroke="#0000b4" stroke-width="22.2" stroke-linecap="square"/><line x1="1116.4" y1="290.0" x2="977.6" y2="393.4" stroke="#0000cc" stroke-width="9.3" stroke-linecap="butt"/><line x1="1154.7" y1="321.7" x2="1127.8" y2="375.7" stroke="#0000a8" stroke-width="16.8" stroke-linecap="square"/><line x1="1119.7" y1="285.8" x2="1155.6" y2="415.5" stroke="#0000b4" stroke-width="16.8" stroke-linecap="square"/><line x1="1124.3" y1="284.5" x2="1160.3" y2="414.2" stroke="#0000c8" stroke-width="7.0" stroke-linecap="butt"/><line x1="1002.1" y1="331.3" x2="970.8" y2="387.5" stroke="#0000a8" stroke-width="17.8" stroke-linecap="square"/><line x1="970.0" y1="296.3" x2="1007.5" y2="424.6" stroke="#0000ac" stroke-width="17.8" stroke-linecap="square"/><line x1="975.0" y1="294.9" x2="1012.5" y2="423.2" stroke="#000098" stroke-width="7.5" stroke-linecap="butt"/><path d="M968.4,290.4C974.1,292.7 990.1,299.1 1002.3,304.5C1014.5,310.0 1035.1,320.0 1041.6,323.1" fill="none" stroke="#0000a4" stroke-width="16.4" stroke-linecap="round" stroke-linejoin="round" /><path d="M1118.2,280.6C1112.6,282.9 1096.0,288.6 1084.4,294.3C1072.7,299.9 1054.4,311.2 1048.5,314.6" fill="none" stroke="#0000b0" stroke-width="16.4" stroke-linecap="round" stroke-linejoin="round" /><path d="M1016.0,343.7C1018.8,347.4 1026.8,360.1 1033.1,365.6C1039.3,371.1 1047.7,374.9 1053.6,376.7C1059.4,378.6 1065.7,376.7 1068.1,376.7" fill="none" stroke="#18c0c8" stroke-width="10.3" stroke-linecap="round" stroke-linejoin="round" /><path d="M1019.4,350.6C1022.2,353.8 1030.8,365.4 1036.5,369.9C1042.2,374.4 1050.7,376.3 1053.6,377.6" fill="none" stroke="#14c81c" stroke-width="4.4" stroke-linecap="round" stroke-linejoin="round" /><path d="M976.6,286.6C979.2,288.9 986.3,294.5 992.0,300.1C997.7,305.6 1007.7,316.4 1010.8,319.7" fill="none" stroke="#14c81c" stroke-width="10.6" stroke-linecap="round" stroke-linejoin="round" /><path d="M973.2,288.3C975.8,290.7 986.0,300.2 988.6,302.6" fill="none" stroke="#00d8b4" stroke-width="4.1" stroke-linecap="round" stroke-linejoin="round" /><path d="M1112.6,275.5C1109.9,281.4 1102.3,297.4 1096.3,310.7C1090.4,324.0 1079.9,347.9 1076.7,355.4" fill="none" stroke="#10d0a0" stroke-width="19.2" stroke-linecap="butt" stroke-linejoin="round" /><path d="M1109.2,278.1C1106.7,283.2 1098.8,300.4 1094.6,309.0C1090.5,317.6 1086.1,326.3 1084.4,329.7" fill="none" stroke="#14c81c" stroke-width="8.6" stroke-linecap="butt" stroke-linejoin="round" /><path d="M965.5,285.8C966.8,285.5 970.8,283.9 973.2,284.0C975.6,284.2 978.9,286.2 980.0,286.6" fill="none" stroke="#0a84e0" stroke-width="12.7" stroke-linecap="round" stroke-linejoin="round" /><path d="M1107.5,275.5C1109.2,275.8 1115.0,274.8 1117.7,277.2C1120.4,279.6 1122.7,287.9 1123.7,290.0" fill="none" stroke="#0a84e0" stroke-width="14.4" stroke-linecap="round" stroke-linejoin="round" /><line x1="1041.1" y1="332.8" x2="1150.7" y2="415.9" stroke="#00009c" stroke-width="25.0" stroke-linecap="square"/><line x1="1130.4" y1="329.7" x2="1015.3" y2="425.0" stroke="#00009c" stroke-width="25.0" stroke-linecap="square"/><path d="M1004.0,324.6C1006.5,324.7 1014.8,324.3 1019.4,325.4C1023.9,326.6 1029.4,330.4 1031.3,331.4" fill="none" stroke="#0062c8" stroke-width="21.2" stroke-linecap="round" stroke-linejoin="round" /><path d="M1156.2,314.3C1154.5,315.2 1149.1,317.6 1145.9,319.4C1142.8,321.3 1138.8,324.4 1137.4,325.4" fill="none" stroke="#0062c8" stroke-width="22.2" stroke-linecap="round" stroke-linejoin="round" /><path d="M1017.7,322.9C1019.1,322.6 1024.8,321.4 1026.2,321.2" fill="none" stroke="#0096ae" stroke-width="6.8" stroke-linecap="round" stroke-linejoin="round" /><path d="M1130.5,319.4C1132.8,317.7 1139.9,311.6 1144.2,309.2C1148.5,306.8 1154.2,305.6 1156.2,304.9" fill="none" stroke="#14c81c" stroke-width="3.8" stroke-linecap="round" stroke-linejoin="round" /></g>
<g id="T2"><polygon points="909.1,174.8 1133.1,160.2 1191.3,216.7 965.5,229.5" fill="#a2a2a2" /><line x1="960.9" y1="173.6" x2="1140.8" y2="199.0" stroke="#0000d4" stroke-width="12.3" stroke-linecap="square"/><line x1="960.4" y1="177.2" x2="1140.3" y2="202.6" stroke="#0000b0" stroke-width="5.2" stroke-linecap="butt"/><line x1="1110.7" y1="163.4" x2="1000.8" y2="208.0" stroke="#0000c0" stroke-width="12.3" stroke-linecap="square"/><line x1="1109.3" y1="160.1" x2="999.5" y2="204.7" stroke="#0000a4" stroke-width="5.2" stroke-linecap="butt"/><line x1="1025.9" y1="96.9" x2="961.6" y2="168.0" stroke="#0000b4" stroke-width="21.5" stroke-linecap="square"/><line x1="1030.5" y1="101.1" x2="966.2" y2="172.2" stroke="#0000cc" stroke-width="9.1" stroke-linecap="butt"/><line x1="1141.9" y1="105.2" x2="1116.7" y2="157.1" stroke="#0000a8" stroke-width="16.8" stroke-linecap="square"/><line x1="1120.5" y1="76.6" x2="1143.7" y2="194.3" stroke="#0000b4" stroke-width="16.8" stroke-linecap="square"/><line x1="1125.2" y1="75.6" x2="1148.5" y2="193.4" stroke="#0000c8" stroke-width="7.0" stroke-linecap="butt"/><line x1="980.5" y1="114.2" x2="959.1" y2="167.8" stroke="#0000a8" stroke-width="17.8" stroke-linecap="square"/><line x1="958.6" y1="81.9" x2="995.5" y2="204.0" stroke="#0000ac" stroke-width="17.8" stroke-linecap="square"/><line x1="963.5" y1="80.4" x2="1000.4" y2="202.6" stroke="#000098" stroke-width="7.5" stroke-linecap="butt"/><path d="M957.0,69.6C961.2,69.0 973.8,65.6 982.6,66.2C991.5,66.7 1002.0,69.0 1010.0,73.0C1018.0,77.0 1027.1,87.3 1030.5,90.1" fill="none" stroke="#0000a8" stroke-width="17.8" stroke-linecap="round" stroke-linejoin="round" /><path d="M956.1,68.7C959.4,68.2 968.5,65.3 975.8,65.3C983.0,65.3 995.7,68.2 999.7,68.7" fill="none" stroke="#10a8d0" stroke-width="17.8" stroke-linecap="round" stroke-linejoin="round" /><path d="M1121.1,69.6C1118.9,67.5 1114.9,58.6 1107.5,56.8C1100.1,54.9 1086.4,56.5 1076.7,58.5C1067.0,60.5 1056.6,63.8 1049.3,68.7C1042.0,73.7 1035.8,85.1 1033.1,88.4" fill="none" stroke="#0000ac" stroke-width="17.8" stroke-linecap="round" stroke-linejoin="round" /><path d="M1119.4,67.9C1117.4,66.0 1113.7,58.4 1107.5,56.8C1101.2,55.1 1090.1,56.6 1081.8,58.0C1073.5,59.3 1061.9,63.7 1057.9,64.8" fill="none" stroke="#1098d8" stroke-width="17.8" stroke-linecap="round" stroke-linejoin="round" /><path d="M1078.4,58.0C1076.1,58.6 1067.0,61.2 1064.7,61.9" fill="none" stroke="#10b0c8" stroke-width="17.1" stroke-linecap="butt" stroke-linejoin="round" /><path d="M968.9,61.9C971.5,65.7 979.2,79.1 984.3,85.0C989.5,90.8 997.2,95.0 999.7,97.0" fill="none" stroke="#14c81c" stroke-width="10.9" stroke-linecap="butt" stroke-linejoin="round" /><path d="M966.4,63.6C968.4,66.6 976.3,78.6 978.3,81.6" fill="none" stroke="#f07c00" stroke-width="4.1" stroke-linecap="butt" stroke-linejoin="round" /><path d="M1105.8,52.5C1102.9,58.5 1094.2,77.3 1088.7,88.4C1083.1,99.5 1075.1,114.1 1072.4,119.2" fill="none" stroke="#30d820" stroke-width="19.2" stroke-linecap="butt" stroke-linejoin="round" /><path d="M1098.1,57.6C1096.6,60.8 1090.9,73.3 1089.5,76.4" fill="none" stroke="#f2d000" stroke-width="5.8" stroke-linecap="butt" stroke-linejoin="round" /><path d="M1085.2,91.8C1083.2,95.8 1075.3,111.8 1073.3,115.8" fill="none" stroke="#00d8b4" stroke-width="8.6" stroke-linecap="butt" stroke-linejoin="round" /><path d="M998.0,120.9C1001.1,123.5 1010.3,132.2 1016.8,136.3C1023.4,140.4 1030.8,145.4 1037.3,145.7C1043.9,146.0 1053.0,139.3 1056.2,138.0" fill="none" stroke="#20c8c0" stroke-width="10.3" stroke-linecap="round" stroke-linejoin="round" /><path d="M1016.8,129.5C1019.1,130.9 1028.2,136.6 1030.5,138.0" fill="none" stroke="#14c81c" stroke-width="4.4" stroke-linecap="round" stroke-linejoin="round" /><path d="M1092.1,132.9C1094.4,131.7 1103.5,127.2 1105.8,126.0" fill="none" stroke="#14c81c" stroke-width="6.8" stroke-linecap="round" stroke-linejoin="round" /><path d="M982.6,107.2C987.7,107.5 1002.0,107.4 1013.4,108.9C1024.8,110.5 1044.8,115.3 1051.0,116.6" fill="none" stroke="#0a78cc" stroke-width="23.9" stroke-linecap="round" stroke-linejoin="round" /><path d="M989.5,100.4C992.9,101.0 1003.1,102.9 1010.0,103.8C1016.8,104.7 1027.1,105.2 1030.5,105.5" fill="none" stroke="#12a0c0" stroke-width="8.6" stroke-linecap="butt" stroke-linejoin="round" /><path d="M1144.2,95.3C1140.7,96.2 1131.0,97.8 1122.9,101.2C1114.7,104.7 1100.1,113.4 1095.5,115.8" fill="none" stroke="#0a78cc" stroke-width="23.9" stroke-linecap="round" stroke-linejoin="round" /><path d="M1146.8,91.8C1143.7,92.4 1131.1,94.7 1128.0,95.3" fill="none" stroke="#12a8b8" stroke-width="12.0" stroke-linecap="round" stroke-linejoin="round" /><line x1="1056.7" y1="120.9" x2="1139.0" y2="194.5" stroke="#00009c" stroke-width="23.9" stroke-linecap="square"/><line x1="1088.3" y1="121.1" x2="1002.7" y2="204.2" stroke="#00009c" stroke-width="23.9" stroke-linecap="square"/><path d="M982.6,107.2C987.7,107.5 1003.1,107.7 1013.4,108.9C1023.7,110.2 1039.1,113.9 1044.2,114.9" fill="none" stroke="#0a78cc" stroke-width="23.9" stroke-linecap="round" stroke-linejoin="round" /><path d="M989.5,100.4C992.9,101.0 1003.1,102.9 1010.0,103.8C1016.8,104.7 1027.1,105.2 1030.5,105.5" fill="none" stroke="#12a0c0" stroke-width="8.6" stroke-linecap="butt" stroke-linejoin="round" /><path d="M1144.2,95.3C1140.7,96.2 1129.8,98.5 1122.9,101.2C1115.9,103.9 1105.8,109.8 1102.3,111.5" fill="none" stroke="#0a78cc" stroke-width="23.9" stroke-linecap="round" stroke-linejoin="round" /><path d="M1146.8,91.8C1143.7,92.4 1131.1,94.7 1128.0,95.3" fill="none" stroke="#12a8b8" stroke-width="12.0" stroke-linecap="round" stroke-linejoin="round" /><path d="M1056.2,117.5C1058.4,119.5 1065.3,129.3 1069.8,129.5C1074.4,129.6 1081.2,120.2 1083.5,118.3" fill="none" stroke="#00009c" stroke-width="20.5" stroke-linecap="butt" stroke-linejoin="round" /></g>
<g id="T3"><polygon points="1200.5,174.8 1419.4,160.2 1481.9,215.0 1256.1,228.7" fill="#a2a2a2" /><line x1="1251.7" y1="174.4" x2="1433.3" y2="199.1" stroke="#0000d4" stroke-width="10.3" stroke-linecap="square"/><line x1="1251.3" y1="177.3" x2="1432.9" y2="202.1" stroke="#0000b0" stroke-width="4.3" stroke-linecap="butt"/><line x1="1404.4" y1="166.5" x2="1294.2" y2="207.0" stroke="#0000c0" stroke-width="10.3" stroke-linecap="square"/><polygon points="1245.0,115.8 1436.5,122.6 1440.0,191.0 1286.0,204.7 1248.4,173.9" fill="#0a5cc8" /><polygon points="1282.6,156.8 1299.7,155.1 1289.5,173.9" fill="#fff" /><polygon points="1409.2,156.8 1429.7,156.8 1426.3,167.1" fill="#a2a2a2" /><path d="M1248.4,100.4C1248.1,106.9 1246.4,128.0 1246.7,139.7C1247.0,151.4 1249.6,165.4 1250.1,170.5" fill="none" stroke="#0000a8" stroke-width="17.1" stroke-linecap="round" stroke-linejoin="round" /><path d="M1268.9,129.5C1269.5,136.9 1269.5,160.8 1272.4,173.9C1275.2,187.0 1283.8,202.4 1286.0,208.1" fill="none" stroke="#0000a4" stroke-width="17.1" stroke-linecap="round" stroke-linejoin="round" /><path d="M1248.4,102.1C1248.4,106.7 1248.4,124.9 1248.4,129.5" fill="none" stroke="#0a86c8" stroke-width="15.4" stroke-linecap="round" stroke-linejoin="round" /><path d="M1268.9,132.9C1269.2,137.4 1270.4,155.7 1270.6,160.2" fill="none" stroke="#0a78cc" stroke-width="13.7" stroke-linecap="round" stroke-linejoin="round" /><path d="M1436.5,129.5C1436.5,135.7 1436.3,155.4 1436.5,167.1C1436.8,178.8 1438.0,194.2 1438.2,199.6" fill="none" stroke="#0000ac" stroke-width="15.4" stroke-linecap="round" stroke-linejoin="round" /><path d="M1404.0,88.4C1406.6,92.4 1414.0,106.1 1419.4,112.4C1424.9,118.6 1433.7,123.8 1436.5,126.0" fill="none" stroke="#0a8cd0" stroke-width="17.8" stroke-linecap="round" stroke-linejoin="round" /><path d="M1412.6,108.9C1413.7,110.1 1418.3,114.6 1419.4,115.8" fill="none" stroke="#0000b0" stroke-width="17.1" stroke-linecap="butt" stroke-linejoin="round" /><path d="M1248.4,99.5C1253.0,99.1 1266.1,96.7 1275.8,97.0C1285.5,97.2 1298.9,98.7 1306.6,101.2C1314.3,103.8 1319.4,110.5 1322.0,112.4" fill="none" stroke="#10a4c4" stroke-width="19.2" stroke-linecap="round" stroke-linejoin="round" /><path d="M1310.0,102.1C1312.0,103.8 1320.0,110.6 1322.0,112.4" fill="none" stroke="#0000b0" stroke-width="17.8" stroke-linecap="round" stroke-linejoin="round" /><path d="M1325.4,110.6C1328.2,108.1 1333.9,98.7 1342.5,95.3C1351.0,91.8 1367.0,91.3 1376.7,90.1C1386.4,89.0 1396.6,88.7 1400.6,88.4" fill="none" stroke="#10a4c4" stroke-width="19.2" stroke-linecap="round" stroke-linejoin="round" /><path d="M1325.4,112.4C1326.8,110.6 1332.5,103.8 1333.9,102.1" fill="none" stroke="#0000b0" stroke-width="17.1" stroke-linecap="round" stroke-linejoin="round" /><path d="M1275.8,115.8C1281.5,116.6 1300.3,119.8 1310.0,120.9C1319.7,122.0 1329.9,122.3 1333.9,122.6" fill="none" stroke="#0a78e0" stroke-width="10.3" stroke-linecap="round" stroke-linejoin="round" /><path d="M1333.9,122.6C1338.2,122.3 1355.3,121.2 1359.6,120.9" fill="none" stroke="#0a68d0" stroke-width="10.3" stroke-linecap="round" stroke-linejoin="round" /><path d="M1260.4,93.5C1264.1,99.2 1274.3,114.6 1282.6,127.7C1290.9,140.9 1305.4,164.8 1310.0,172.2" fill="none" stroke="#86e400" stroke-width="12.3" stroke-linecap="butt" stroke-linejoin="round" /><path d="M1258.7,95.3C1261.5,99.5 1272.9,116.6 1275.8,120.9" fill="none" stroke="#f07c00" stroke-width="5.1" stroke-linecap="butt" stroke-linejoin="round" /><path d="M1265.5,95.3C1268.9,100.4 1282.6,120.9 1286.0,126.0" fill="none" stroke="#f2d000" stroke-width="5.1" stroke-linecap="butt" stroke-linejoin="round" /><path d="M1393.8,84.1C1391.5,89.1 1384.8,104.5 1380.1,114.1C1375.4,123.6 1368.0,136.9 1365.6,141.4" fill="none" stroke="#86e400" stroke-width="19.2" stroke-linecap="butt" stroke-linejoin="round" /><path d="M1390.4,88.4C1388.4,92.4 1380.4,108.4 1378.4,112.4" fill="none" stroke="#f2d000" stroke-width="8.6" stroke-linecap="butt" stroke-linejoin="round" /><path d="M1385.2,93.5C1384.7,95.0 1382.4,100.7 1381.8,102.1" fill="none" stroke="#f07c00" stroke-width="6.8" stroke-linecap="butt" stroke-linejoin="round" /><path d="M1272.4,131.2C1276.9,132.7 1289.5,137.9 1299.7,140.6C1310.0,143.3 1325.1,146.8 1333.9,147.4C1342.8,148.0 1349.6,144.6 1352.7,144.0" fill="none" stroke="#0e96b4" stroke-width="22.9" stroke-linecap="round" stroke-linejoin="round" /><path d="M1436.5,131.2C1432.3,132.2 1420.9,135.0 1410.9,137.2C1400.9,139.3 1382.4,142.9 1376.7,144.0" fill="none" stroke="#0e96b4" stroke-width="22.9" stroke-linecap="round" stroke-linejoin="round" /><path d="M1275.8,129.5C1278.1,130.3 1287.2,133.7 1289.5,134.6" fill="none" stroke="#0a78cc" stroke-width="18.8" stroke-linecap="butt" stroke-linejoin="round" /><path d="M1351.0,165.4C1345.3,168.2 1327.1,175.6 1316.8,182.5C1306.6,189.3 1294.0,202.4 1289.5,206.4" fill="none" stroke="#0062c8" stroke-width="25.7" stroke-linecap="round" stroke-linejoin="round" /><path d="M1376.7,165.4C1381.5,167.1 1395.8,170.2 1405.8,175.6C1415.7,181.0 1431.4,194.2 1436.5,197.9" fill="none" stroke="#0062c8" stroke-width="25.7" stroke-linecap="round" stroke-linejoin="round" /><path d="M1310.0,187.6C1306.6,190.7 1292.9,203.3 1289.5,206.4" fill="none" stroke="#00009c" stroke-width="21.9" stroke-linecap="round" stroke-linejoin="round" /><path d="M1416.0,182.5C1419.4,185.0 1433.1,195.3 1436.5,197.9" fill="none" stroke="#00009c" stroke-width="21.9" stroke-linecap="round" stroke-linejoin="round" /><path d="M1354.4,150.0C1356.2,151.1 1361.9,154.0 1364.7,156.8C1367.6,159.7 1370.4,165.4 1371.5,167.1" fill="none" stroke="#00009c" stroke-width="25.7" stroke-linecap="round" stroke-linejoin="round" /><path d="M1351.0,182.5C1353.9,182.0 1365.3,180.3 1368.1,179.9" fill="none" stroke="#14c81c" stroke-width="6.8" stroke-linecap="round" stroke-linejoin="round" /><path d="M1333.9,192.7C1336.8,192.5 1348.2,191.3 1351.0,191.0" fill="none" stroke="#10a0c0" stroke-width="6.2" stroke-linecap="round" stroke-linejoin="round" /></g>
<g id="R50_2"><polygon points="1534.5,1561.5 1761.4,1549.5 1817.8,1603.4 1590.8,1616.3" fill="#a2a2a2" /><line x1="1584.4" y1="1567.2" x2="1767.9" y2="1592.9" stroke="#0000d8" stroke-width="9.7" stroke-linecap="butt"/><line x1="1584.0" y1="1569.9" x2="1767.5" y2="1595.7" stroke="#0000b4" stroke-width="4.1" stroke-linecap="butt"/><line x1="1742.1" y1="1552.7" x2="1626.2" y2="1596.1" stroke="#0000c4" stroke-width="9.0" stroke-linecap="butt"/><path d="M1584.4,1551.1C1588.7,1549.5 1601.3,1544.6 1610.1,1541.4C1619.0,1538.2 1632.9,1533.4 1637.5,1531.8" fill="none" stroke="#0062c8" stroke-width="16.1" stroke-linecap="round" stroke-linejoin="round" /><path d="M1709.9,1539.8C1713.2,1540.9 1722.8,1544.1 1729.3,1546.2C1735.7,1548.4 1745.4,1551.6 1748.6,1552.7" fill="none" stroke="#0000a8" stroke-width="14.5" stroke-linecap="round" stroke-linejoin="round" /><path d="M1664.9,1515.7C1670.2,1517.0 1687.7,1520.2 1697.1,1523.7C1706.5,1527.2 1717.2,1534.4 1721.2,1536.6" fill="none" stroke="#0a70d8" stroke-width="13.5" stroke-linecap="round" stroke-linejoin="round" /><path d="M1736.5,1459.3C1738.5,1464.1 1744.4,1476.5 1748.6,1488.3C1752.7,1500.1 1757.4,1514.0 1761.4,1530.1C1765.5,1546.2 1770.8,1575.7 1772.7,1584.9" fill="none" stroke="#0a6cd4" stroke-width="15.1" stroke-linecap="round" stroke-linejoin="round" /><path d="M1771.1,1510.8C1769.2,1514.0 1764.1,1524.2 1759.8,1530.1C1755.5,1536.0 1747.8,1543.6 1745.4,1546.2" fill="none" stroke="#0000a8" stroke-width="13.5" stroke-linecap="round" stroke-linejoin="round" /><path d="M1579.6,1470.6C1580.9,1476.2 1584.9,1493.7 1587.6,1504.4C1590.3,1515.1 1594.3,1529.9 1595.7,1535.0" fill="none" stroke="#0062c8" stroke-width="15.5" stroke-linecap="round" stroke-linejoin="round" /><path d="M1590.8,1510.8C1591.5,1514.0 1594.2,1526.9 1594.8,1530.1" fill="none" stroke="#00009c" stroke-width="15.5" stroke-linecap="butt" stroke-linejoin="round" /><path d="M1615.0,1514.0C1612.0,1518.3 1602.5,1532.8 1597.3,1539.8C1592.0,1546.8 1585.9,1553.2 1583.6,1555.9" fill="none" stroke="#0a64cc" stroke-width="16.1" stroke-linecap="round" stroke-linejoin="round" /><path d="M1583.6,1543.0C1583.6,1545.7 1583.6,1556.4 1583.6,1559.1" fill="none" stroke="#0a64cc" stroke-width="17.7" stroke-linecap="round" stroke-linejoin="round" /><path d="M1603.7,1543.0C1604.8,1547.8 1607.7,1562.9 1610.1,1572.0C1612.6,1581.1 1616.8,1593.5 1618.2,1597.7" fill="none" stroke="#0062c8" stroke-width="16.7" stroke-linecap="round" stroke-linejoin="round" /><line x1="1727.4" y1="1460.1" x2="1622.9" y2="1506.3" stroke="#0000ac" stroke-width="16.1" stroke-linecap="square"/><line x1="1729.3" y1="1464.4" x2="1624.8" y2="1510.6" stroke="#000098" stroke-width="6.8" stroke-linecap="butt"/><line x1="1585.2" y1="1469.5" x2="1766.6" y2="1496.8" stroke="#0000b0" stroke-width="16.7" stroke-linecap="square"/><line x1="1584.5" y1="1474.3" x2="1765.9" y2="1501.6" stroke="#0000a0" stroke-width="7.0" stroke-linecap="butt"/><path d="M1595.7,1483.5C1599.1,1484.5 1609.9,1488.0 1616.6,1489.9C1623.3,1491.8 1632.7,1493.9 1635.9,1494.7" fill="none" stroke="#0a70d8" stroke-width="7.1" stroke-linecap="butt" stroke-linejoin="round" /><path d="M1623.0,1515.7C1629.5,1518.1 1649.3,1524.9 1661.6,1530.1C1674.0,1535.4 1685.0,1540.6 1697.1,1547.0C1709.1,1553.5 1722.3,1562.1 1734.1,1568.8C1745.9,1575.5 1762.3,1584.2 1767.9,1587.3" fill="none" stroke="#0062c8" stroke-width="24.1" stroke-linecap="round" stroke-linejoin="round" /><path d="M1767.9,1506.0C1762.3,1508.9 1745.9,1516.9 1734.1,1523.7C1722.3,1530.5 1709.4,1539.0 1697.1,1547.0C1684.7,1555.1 1672.1,1563.9 1660.0,1572.0C1648.0,1580.0 1630.5,1591.4 1624.6,1595.3" fill="none" stroke="#0062c8" stroke-width="24.1" stroke-linecap="round" stroke-linejoin="round" /><path d="M1623.0,1515.7C1625.2,1516.6 1633.7,1520.3 1635.9,1521.3" fill="none" stroke="#00009c" stroke-width="25.8" stroke-linecap="round" stroke-linejoin="round" /><path d="M1768.7,1504.4C1767.2,1505.5 1761.3,1509.8 1759.8,1510.8" fill="none" stroke="#00009c" stroke-width="27.4" stroke-linecap="round" stroke-linejoin="round" /><path d="M1758.2,1581.6C1759.8,1582.3 1766.3,1585.0 1767.9,1585.7" fill="none" stroke="#00009c" stroke-width="24.1" stroke-linecap="round" stroke-linejoin="round" /><path d="M1624.6,1593.7C1626.0,1592.9 1631.3,1589.7 1632.7,1588.9" fill="none" stroke="#00009c" stroke-width="24.1" stroke-linecap="round" stroke-linejoin="round" /><path d="M1684.2,1541.4C1686.3,1542.3 1692.8,1544.9 1697.1,1547.0C1701.4,1549.2 1707.8,1553.1 1709.9,1554.3" fill="none" stroke="#00009c" stroke-width="33.8" stroke-linecap="butt" stroke-linejoin="round" /><path d="M1709.9,1539.8C1707.8,1541.0 1701.4,1544.5 1697.1,1547.0C1692.8,1549.6 1686.3,1553.7 1684.2,1555.1" fill="none" stroke="#00009c" stroke-width="33.8" stroke-linecap="butt" stroke-linejoin="round" /></g>
<g id="R100_2"><polygon points="1853.2,1571.5 2080.2,1559.4 2136.5,1613.4 1909.5,1626.2" fill="#a2a2a2" /><line x1="1903.1" y1="1577.1" x2="2086.6" y2="1602.9" stroke="#0000d8" stroke-width="9.7" stroke-linecap="butt"/><line x1="1902.7" y1="1579.9" x2="2086.2" y2="1605.7" stroke="#0000b4" stroke-width="4.1" stroke-linecap="butt"/><line x1="2060.8" y1="1562.7" x2="1944.9" y2="1606.1" stroke="#0000c4" stroke-width="9.0" stroke-linecap="butt"/><path d="M1903.1,1561.0C1907.4,1559.4 1920.0,1554.6 1928.9,1551.4C1937.7,1548.2 1951.7,1543.3 1956.2,1541.7" fill="none" stroke="#0062c8" stroke-width="16.1" stroke-linecap="round" stroke-linejoin="round" /><path d="M2028.7,1549.8C2031.9,1550.9 2041.5,1554.1 2048.0,1556.2C2054.4,1558.4 2064.1,1561.6 2067.3,1562.7" fill="none" stroke="#0000a8" stroke-width="14.5" stroke-linecap="round" stroke-linejoin="round" /><path d="M1983.6,1525.6C1988.9,1527.0 2006.4,1530.2 2015.8,1533.7C2025.2,1537.2 2035.9,1544.4 2039.9,1546.6" fill="none" stroke="#0a70d8" stroke-width="13.5" stroke-linecap="round" stroke-linejoin="round" /><path d="M2055.2,1469.3C2057.2,1474.1 2063.1,1486.5 2067.3,1498.3C2071.4,1510.1 2076.1,1524.0 2080.2,1540.1C2084.2,1556.2 2089.6,1585.7 2091.4,1594.8" fill="none" stroke="#0a6cd4" stroke-width="15.1" stroke-linecap="round" stroke-linejoin="round" /><path d="M2089.8,1520.8C2087.9,1524.0 2082.8,1534.2 2078.6,1540.1C2074.3,1546.0 2066.5,1553.5 2064.1,1556.2" fill="none" stroke="#0000a8" stroke-width="13.5" stroke-linecap="round" stroke-linejoin="round" /><path d="M1898.3,1480.6C1899.6,1486.2 1903.6,1503.6 1906.3,1514.4C1909.0,1525.1 1913.0,1539.9 1914.4,1544.9" fill="none" stroke="#0062c8" stroke-width="15.5" stroke-linecap="round" stroke-linejoin="round" /><path d="M1909.5,1520.8C1910.2,1524.0 1912.9,1536.9 1913.6,1540.1" fill="none" stroke="#00009c" stroke-width="15.5" stroke-linecap="butt" stroke-linejoin="round" /><path d="M1933.7,1524.0C1930.7,1528.3 1921.2,1542.8 1916.0,1549.8C1910.7,1556.8 1904.6,1563.2 1902.3,1565.9" fill="none" stroke="#0a64cc" stroke-width="16.1" stroke-linecap="round" stroke-linejoin="round" /><path d="M1902.3,1553.0C1902.3,1555.7 1902.3,1566.4 1902.3,1569.1" fill="none" stroke="#0a64cc" stroke-width="17.7" stroke-linecap="round" stroke-linejoin="round" /><path d="M1922.4,1553.0C1923.5,1557.8 1926.4,1572.9 1928.9,1582.0C1931.3,1591.1 1935.6,1603.4 1936.9,1607.7" fill="none" stroke="#0062c8" stroke-width="16.7" stroke-linecap="round" stroke-linejoin="round" /><line x1="2046.2" y1="1470.1" x2="1941.6" y2="1516.3" stroke="#0000ac" stroke-width="16.1" stroke-linecap="square"/><line x1="2048.0" y1="1474.4" x2="1943.5" y2="1520.6" stroke="#000098" stroke-width="6.8" stroke-linecap="butt"/><line x1="1903.9" y1="1479.4" x2="2085.3" y2="1506.8" stroke="#0000b0" stroke-width="16.7" stroke-linecap="square"/><line x1="1903.2" y1="1484.2" x2="2084.6" y2="1511.6" stroke="#0000a0" stroke-width="7.0" stroke-linecap="butt"/><path d="M1914.4,1493.4C1917.9,1494.5 1928.6,1498.0 1935.3,1499.9C1942.0,1501.8 1951.4,1503.9 1954.6,1504.7" fill="none" stroke="#0a70d8" stroke-width="7.1" stroke-linecap="butt" stroke-linejoin="round" /><path d="M1941.7,1525.6C1948.2,1528.0 1968.0,1534.9 1980.4,1540.1C1992.7,1545.4 2003.7,1550.6 2015.8,1557.0C2027.8,1563.5 2041.0,1572.0 2052.8,1578.8C2064.6,1585.5 2081.0,1594.2 2086.6,1597.3" fill="none" stroke="#0062c8" stroke-width="24.1" stroke-linecap="round" stroke-linejoin="round" /><path d="M2086.6,1516.0C2081.0,1518.9 2064.6,1526.8 2052.8,1533.7C2041.0,1540.5 2028.1,1549.0 2015.8,1557.0C2003.4,1565.1 1990.8,1573.9 1978.8,1582.0C1966.7,1590.0 1949.2,1601.4 1943.3,1605.3" fill="none" stroke="#0062c8" stroke-width="24.1" stroke-linecap="round" stroke-linejoin="round" /><path d="M1941.7,1525.6C1943.9,1526.6 1952.5,1530.3 1954.6,1531.3" fill="none" stroke="#00009c" stroke-width="25.8" stroke-linecap="round" stroke-linejoin="round" /><path d="M2087.4,1514.4C2085.9,1515.4 2080.0,1519.7 2078.6,1520.8" fill="none" stroke="#00009c" stroke-width="27.4" stroke-linecap="round" stroke-linejoin="round" /><path d="M2076.9,1591.6C2078.6,1592.3 2085.0,1595.0 2086.6,1595.7" fill="none" stroke="#00009c" stroke-width="24.1" stroke-linecap="round" stroke-linejoin="round" /><path d="M1943.3,1603.7C1944.7,1602.9 1950.0,1599.7 1951.4,1598.9" fill="none" stroke="#00009c" stroke-width="24.1" stroke-linecap="round" stroke-linejoin="round" /><path d="M2002.9,1551.4C2005.0,1552.3 2011.5,1554.9 2015.8,1557.0C2020.1,1559.2 2026.5,1563.1 2028.7,1564.3" fill="none" stroke="#00009c" stroke-width="33.8" stroke-linecap="butt" stroke-linejoin="round" /><path d="M2028.7,1549.8C2026.5,1551.0 2020.1,1554.5 2015.8,1557.0C2011.5,1559.6 2005.0,1563.7 2002.9,1565.1" fill="none" stroke="#00009c" stroke-width="33.8" stroke-linecap="butt" stroke-linejoin="round" /></g>
<g id="R50_1"><polygon points="1532.9,1362.6 1766.3,1350.5 1817.0,1404.4 1589.2,1418.1" fill="#a2a2a2" /><polygon points="1573.1,1304.6 1611.8,1342.4 1613.4,1406.8 1573.1,1368.2" fill="#0a90b0" /><polygon points="1611.8,1342.4 1775.9,1332.0 1776.7,1397.2 1613.4,1406.8" fill="#0a92ac" /><polygon points="1573.1,1303.8 1734.1,1292.5 1775.9,1332.0 1611.8,1343.2" fill="#0a78d4" /><polygon points="1573.1,1304.6 1579.6,1310.2 1580.4,1374.6 1573.1,1368.2" fill="#00009c" /><polygon points="1589.2,1321.5 1597.3,1329.6 1598.9,1392.3 1590.8,1385.1" fill="#00009c" /><polygon points="1573.1,1334.4 1611.8,1373.0 1611.8,1379.5 1573.1,1340.8" fill="#0a60c8" /><polygon points="1611.8,1342.4 1632.7,1341.1 1635.9,1405.2 1613.4,1406.8" fill="#00009c" /><polygon points="1632.7,1341.1 1642.3,1340.5 1645.6,1404.6 1635.9,1405.2" fill="#0062c8" /><polygon points="1674.5,1338.4 1685.8,1337.6 1687.4,1401.7 1677.7,1402.3" fill="#0062c8" /><polygon points="1685.8,1347.3 1706.7,1345.7 1708.3,1395.6 1687.4,1397.2" fill="#00009c" /><polygon points="1706.7,1336.3 1716.4,1335.7 1718.0,1399.6 1708.3,1400.1" fill="#0062c8" /><polygon points="1750.2,1333.7 1759.8,1333.1 1761.4,1398.0 1751.8,1398.5" fill="#0062c8" /><polygon points="1759.8,1333.1 1775.9,1332.0 1776.7,1397.2 1761.4,1398.0" fill="#00009c" /><polygon points="1613.4,1373.0 1775.9,1363.4 1775.9,1366.6 1613.4,1376.6" fill="#0a60c8" /><polygon points="1592.4,1315.1 1642.3,1323.1 1616.6,1336.0" fill="#10a8cc" /><polygon points="1656.8,1311.9 1700.3,1300.6 1674.5,1318.3" fill="#10a0d8" /><polygon points="1697.1,1321.5 1729.3,1307.0 1755.0,1324.7" fill="#2890d0" /><path d="M1734.1,1299.0C1736.0,1301.7 1741.3,1310.8 1745.4,1315.1C1749.4,1319.4 1756.1,1323.1 1758.2,1324.7" fill="none" stroke="#10a0d0" stroke-width="14.5" stroke-linecap="round" stroke-linejoin="round" /><line x1="1729.0" y1="1295.9" x2="1620.1" y2="1341.8" stroke="#0000ac" stroke-width="11.9" stroke-linecap="square"/><line x1="1730.3" y1="1299.1" x2="1621.4" y2="1344.9" stroke="#000098" stroke-width="5.0" stroke-linecap="butt"/><line x1="1580.4" y1="1307.9" x2="1767.3" y2="1333.5" stroke="#0000b0" stroke-width="11.9" stroke-linecap="square"/><line x1="1580.0" y1="1311.3" x2="1766.9" y2="1337.0" stroke="#0000a0" stroke-width="5.0" stroke-linecap="butt"/></g>
<g id="R100_1"><polygon points="1850.3,1359.8 2083.7,1347.7 2134.4,1401.7 1906.6,1415.4" fill="#a2a2a2" /><polygon points="1890.5,1295.8 1929.2,1333.6 1930.8,1403.6 1890.5,1365.0" fill="#0a90b0" /><polygon points="1929.2,1333.6 2093.4,1323.1 2094.2,1393.9 1930.8,1403.6" fill="#0a92ac" /><polygon points="1890.5,1294.9 2051.5,1283.7 2093.4,1323.1 1929.2,1334.4" fill="#0a78d4" /><polygon points="1890.5,1295.8 1897.0,1301.4 1897.8,1371.4 1890.5,1365.0" fill="#00009c" /><polygon points="1906.6,1312.7 1914.7,1320.7 1916.3,1389.1 1908.2,1381.9" fill="#00009c" /><polygon points="1890.5,1325.5 1929.2,1364.2 1929.2,1370.6 1890.5,1332.0" fill="#0a60c8" /><polygon points="1929.2,1333.6 1950.1,1332.3 1953.3,1402.0 1930.8,1403.6" fill="#00009c" /><polygon points="1950.1,1332.3 1959.8,1331.6 1963.0,1401.3 1953.3,1402.0" fill="#0062c8" /><polygon points="1992.0,1329.6 2003.2,1328.8 2004.8,1398.5 1995.2,1399.1" fill="#0062c8" /><polygon points="2003.2,1338.4 2024.1,1336.8 2025.8,1392.3 2004.8,1393.9" fill="#00009c" /><polygon points="2024.1,1327.5 2033.8,1326.8 2035.4,1396.4 2025.8,1396.8" fill="#0062c8" /><polygon points="2067.6,1324.9 2077.3,1324.2 2078.9,1394.7 2069.2,1395.2" fill="#0062c8" /><polygon points="2077.3,1324.2 2093.4,1323.1 2094.2,1393.9 2078.9,1394.7" fill="#00009c" /><polygon points="1930.8,1367.0 2093.4,1357.3 2093.4,1360.5 1930.8,1370.5" fill="#0a60c8" /><polygon points="1909.9,1306.2 1959.8,1314.3 1934.0,1327.1" fill="#10a8cc" /><polygon points="1974.2,1303.0 2017.7,1291.7 1992.0,1309.4" fill="#10a0d8" /><polygon points="2014.5,1312.7 2046.7,1298.2 2072.4,1315.9" fill="#2890d0" /><path d="M2051.5,1290.1C2053.4,1292.8 2058.8,1301.9 2062.8,1306.2C2066.8,1310.5 2073.5,1314.3 2075.7,1315.9" fill="none" stroke="#10a0d0" stroke-width="14.5" stroke-linecap="round" stroke-linejoin="round" /><line x1="2046.4" y1="1287.1" x2="1937.5" y2="1332.9" stroke="#0000ac" stroke-width="11.9" stroke-linecap="square"/><line x1="2047.7" y1="1290.3" x2="1938.9" y2="1336.1" stroke="#000098" stroke-width="5.0" stroke-linecap="butt"/><line x1="1897.9" y1="1299.0" x2="2084.8" y2="1324.7" stroke="#0000b0" stroke-width="11.9" stroke-linecap="square"/><line x1="1897.4" y1="1302.4" x2="2084.3" y2="1328.1" stroke="#0000a0" stroke-width="5.0" stroke-linecap="butt"/></g>
<g id="R100_0"><polygon points="1851.3,1183.6 2081.4,1173.9 2136.2,1225.4 1907.6,1239.1" fill="#a2a2a2" /><polygon points="1891.5,1153.0 1931.8,1190.0 1931.8,1227.8 1891.5,1186.8" fill="#08c010" /><polygon points="1931.8,1190.0 2095.9,1181.2 2095.9,1216.6 1931.8,1227.8" fill="#08c010" /><polygon points="1891.5,1152.2 2054.1,1140.9 2095.9,1181.2 1931.8,1190.0" fill="#10d088" /><polygon points="1891.5,1153.0 1895.5,1156.7 1895.5,1190.8 1891.5,1186.8" fill="#00009c" /><polygon points="1909.2,1169.9 1915.7,1175.5 1915.7,1211.8 1909.2,1205.3" fill="#0a50c8" /><polygon points="1931.8,1190.0 1949.5,1188.9 1949.5,1226.6 1931.8,1227.8" fill="#00009c" /><polygon points="1949.5,1188.9 1955.9,1188.6 1952.7,1226.2 1949.5,1226.6" fill="#10a0d0" /><polygon points="2001.0,1195.7 2015.5,1187.6 2029.9,1200.5 2017.1,1218.2 2002.6,1210.1" fill="#00009c" /><polygon points="1994.5,1189.2 2001.0,1195.7 2002.6,1210.1 2010.6,1221.4 2001.0,1222.2 1992.9,1210.1" fill="#10a8c8" /><polygon points="2029.9,1200.5 2036.4,1187.6 2042.8,1203.7 2029.9,1219.8 2017.1,1218.2" fill="#10a8c8" /><polygon points="2081.4,1182.1 2095.9,1181.2 2095.9,1216.6 2081.4,1217.5" fill="#00009c" /><polygon points="2075.0,1182.8 2081.4,1182.1 2081.4,1217.5 2076.6,1216.6" fill="#10a0d0" /><polygon points="1944.6,1152.2 1984.9,1149.8 1968.8,1161.9" fill="#10b0c0" /><polygon points="1972.0,1149.0 2001.0,1147.4 1989.7,1163.5" fill="#0a80e0" /><polygon points="2033.2,1161.9 2065.4,1158.6 2075.0,1173.1 2049.3,1171.5" fill="#10b0a0" /><line x1="2051.7" y1="1144.1" x2="1936.6" y2="1190.8" stroke="#0000ac" stroke-width="10.3" stroke-linecap="butt"/><line x1="2052.8" y1="1146.9" x2="1937.7" y2="1193.6" stroke="#000098" stroke-width="4.3" stroke-linecap="butt"/><line x1="1894.7" y1="1154.6" x2="2092.7" y2="1182.8" stroke="#0000b0" stroke-width="10.3" stroke-linecap="butt"/><line x1="1894.3" y1="1157.6" x2="2092.3" y2="1185.7" stroke="#0000a0" stroke-width="4.3" stroke-linecap="butt"/></g></g>
<g id="curves"><path d="M389.2,1736.6C392.3,1734.7 396.0,1729.1 407.9,1725.2C419.8,1721.3 442.8,1717.1 460.7,1713.1C478.6,1709.1 494.9,1706.5 515.0,1701.0C535.1,1695.5 563.4,1686.2 581.5,1679.9C599.6,1673.6 612.6,1668.3 623.7,1663.3C634.8,1658.3 639.9,1655.5 647.9,1649.7C655.9,1643.9 664.0,1635.6 672.0,1628.6C680.0,1621.5 688.6,1614.2 696.1,1607.4C703.6,1600.6 707.7,1595.3 717.3,1587.8C726.9,1580.3 740.9,1570.2 753.5,1562.2C766.1,1554.2 773.6,1549.1 792.7,1539.5C811.8,1529.9 850.3,1513.0 868.2,1504.8C886.1,1496.6 889.7,1495.6 900.0,1490.5C910.3,1485.4 920.1,1480.0 930.2,1474.0C940.3,1468.0 948.3,1464.0 960.4,1454.8C972.5,1445.6 991.0,1429.1 1002.6,1418.6C1014.2,1408.0 1021.8,1400.0 1029.8,1391.5C1037.8,1383.0 1042.4,1375.9 1050.9,1367.3C1059.5,1358.7 1070.0,1348.6 1081.1,1340.1C1092.2,1331.5 1102.2,1326.0 1117.3,1316.0C1132.4,1306.0 1155.0,1291.4 1171.6,1279.8C1188.2,1268.2 1204.3,1257.2 1216.9,1246.6C1229.5,1236.0 1239.5,1226.0 1247.1,1216.4C1254.6,1206.8 1258.2,1198.2 1262.2,1189.2C1266.2,1180.2 1269.1,1170.1 1271.2,1162.1C1273.3,1154.1 1273.0,1151.3 1275.0,1141.0C1277.0,1130.7 1280.5,1111.8 1283.0,1100.0C1285.5,1088.2 1287.3,1078.3 1290.0,1070.0C1292.7,1061.7 1296.0,1055.2 1299.0,1050.0C1302.0,1044.8 1305.4,1040.5 1308.0,1039.0C1310.6,1037.5 1313.3,1038.5 1314.5,1041.0C1315.7,1043.5 1316.1,1050.8 1315.0,1054.0C1313.9,1057.2 1320.0,1059.0 1308.0,1060.0C1296.0,1061.0 1253.8,1060.2 1243.0,1060.2" fill="none" stroke="#006fd6" stroke-width="7" stroke-linecap="round" stroke-linejoin="round" />
<path d="M753.5,1559.7C762.8,1554.7 800.0,1534.5 809.3,1529.5" fill="none" stroke="#006fd6" stroke-width="7" stroke-linecap="round" stroke-linejoin="round" />
<path d="M875.7,1494.8C885.0,1490.0 922.3,1470.9 931.6,1466.1" fill="none" stroke="#006fd6" stroke-width="7" stroke-linecap="round" stroke-linejoin="round" />
<path d="M999.6,1423.6C1006.7,1417.1 1034.9,1390.9 1041.9,1384.4" fill="none" stroke="#006fd6" stroke-width="7" stroke-linecap="round" stroke-linejoin="round" />
<path d="M1105.2,1314.5C1110.7,1310.0 1132.9,1291.8 1138.4,1287.3" fill="none" stroke="#006fd6" stroke-width="7" stroke-linecap="round" stroke-linejoin="round" />
<path d="M1195.8,1239.9C1203.4,1232.9 1234.0,1204.7 1241.6,1197.7" fill="none" stroke="#006fd6" stroke-width="7" stroke-linecap="round" stroke-linejoin="round" />
<path d="M1277.5,1134.0C1281.5,1124.1 1297.5,1084.4 1301.5,1074.5" fill="none" stroke="#006fd6" stroke-width="7" stroke-linecap="round" stroke-linejoin="round" />
<path d="M1320.8,1002.2C1323.2,991.9 1332.6,950.6 1335.0,940.3" fill="none" stroke="#006fd6" stroke-width="7" stroke-linecap="round" stroke-linejoin="round" />
<path d="M1348.0,867.0C1349.7,856.6 1356.6,814.9 1358.3,804.5" fill="none" stroke="#006fd6" stroke-width="7" stroke-linecap="round" stroke-linejoin="round" />
<path d="M1366.8,731.0C1368.0,720.5 1372.5,678.7 1373.7,668.2" fill="none" stroke="#006fd6" stroke-width="7" stroke-linecap="round" stroke-linejoin="round" />
<path d="M1380.4,594.3C1381.2,583.7 1384.2,541.5 1384.9,530.9" fill="none" stroke="#006fd6" stroke-width="7" stroke-linecap="round" stroke-linejoin="round" />
<path d="M1387.3,456.3C1387.3,445.6 1387.3,402.7 1387.3,392.0" fill="none" stroke="#006fd6" stroke-width="7" stroke-linecap="round" stroke-linejoin="round" />
<path d="M1319.4,413.2 L1355,414.1 Q1372,414 1374.6,404.1" fill="none" stroke="#006fd6" stroke-width="7" stroke-linecap="round" stroke-linejoin="round" />
<path d="M389.2,1736.6C389.4,1713.8 390.1,1634.1 390.5,1600.0C390.9,1565.9 390.7,1553.9 391.3,1532.0C391.9,1510.1 393.8,1479.2 394.3,1468.6" fill="none" stroke="#b030ff" stroke-width="7" stroke-linecap="round" stroke-linejoin="round" />
<path d="M394.3,1468.6 L404,1503.3" fill="none" stroke="#b030ff" stroke-width="7" stroke-linecap="round" stroke-linejoin="round" />
<path d="M404.0,1503.3C406.7,1496.0 414.8,1470.7 420.0,1459.6C425.2,1448.5 429.5,1443.1 435.0,1436.9C440.5,1430.8 445.4,1427.7 453.2,1422.7C461.0,1417.7 472.1,1411.6 481.9,1406.7C491.7,1401.8 495.4,1399.5 512.0,1393.2C528.6,1386.9 556.8,1377.0 581.5,1369.0C606.2,1361.0 624.8,1354.6 660.0,1344.9C695.2,1335.2 746.0,1322.8 792.7,1311.0C839.4,1299.2 905.5,1282.6 940.0,1273.9C974.5,1265.2 974.9,1266.3 1000.0,1258.8C1025.1,1251.2 1060.3,1239.7 1090.5,1228.6C1120.7,1217.5 1153.3,1203.5 1181.0,1192.4C1208.7,1181.3 1236.4,1170.8 1256.5,1162.2C1276.6,1153.6 1291.2,1146.5 1301.8,1141.0C1312.4,1135.5 1315.9,1133.0 1319.9,1129.0C1323.9,1125.0 1324.7,1120.4 1326.0,1116.9C1327.3,1113.4 1326.3,1110.4 1327.5,1107.8C1328.7,1105.2 1332.1,1102.5 1333.0,1101.5" fill="none" stroke="#b030ff" stroke-width="7" stroke-linecap="round" stroke-linejoin="round" />
<path d="M1316.9,1098.8 Q1350,1100 1384.8,1096.4" fill="none" stroke="#b030ff" stroke-width="7" stroke-linecap="round" stroke-linejoin="round" />
<path d="M395.2,1397.7C395.1,1403.1 394.8,1419.6 394.6,1430.0C394.4,1440.4 394.1,1455.0 394.0,1460.0" fill="none" stroke="#b030ff" stroke-width="7" stroke-linecap="round" stroke-linejoin="round" />
<path d="M420.0,1389.5C422.3,1383.1 430.0,1360.6 433.6,1350.9C437.2,1341.2 440.4,1334.6 441.7,1331.3" fill="none" stroke="#b030ff" stroke-width="7" stroke-linecap="round" stroke-linejoin="round" />
<path d="M481.3,1268.6C485.2,1264.3 497.0,1250.0 504.9,1242.9C512.8,1235.9 524.5,1229.1 528.4,1226.3" fill="none" stroke="#b030ff" stroke-width="7" stroke-linecap="round" stroke-linejoin="round" />
<path d="M592.4,1188.6C601.9,1183.9 639.7,1165.2 649.2,1160.5" fill="none" stroke="#b030ff" stroke-width="7" stroke-linecap="round" stroke-linejoin="round" />
<path d="M717.0,1130.6C726.8,1126.4 765.8,1109.8 775.6,1105.6" fill="none" stroke="#b030ff" stroke-width="7" stroke-linecap="round" stroke-linejoin="round" />
<path d="M844.4,1078.4C854.3,1074.5 894.0,1059.1 903.9,1055.2" fill="none" stroke="#b030ff" stroke-width="7" stroke-linecap="round" stroke-linejoin="round" />
<path d="M972.7,1029.2C982.6,1025.2 1022.3,1009.4 1032.2,1005.4" fill="none" stroke="#b030ff" stroke-width="7" stroke-linecap="round" stroke-linejoin="round" />
<path d="M1101.7,979.6C1111.7,975.6 1151.5,959.4 1161.5,955.4" fill="none" stroke="#b030ff" stroke-width="7" stroke-linecap="round" stroke-linejoin="round" />
<path d="M1229.4,926.8C1239.2,922.7 1278.4,906.1 1288.2,902.0" fill="none" stroke="#b030ff" stroke-width="7" stroke-linecap="round" stroke-linejoin="round" />
<path d="M1355.5,870.9C1365.0,866.5 1403.1,848.8 1412.6,844.4" fill="none" stroke="#b030ff" stroke-width="7" stroke-linecap="round" stroke-linejoin="round" />
<path d="M1478.8,810.7C1481.6,809.3 1489.9,807.1 1495.4,802.5C1500.9,797.9 1508.2,789.4 1512.0,782.9C1515.8,776.4 1517.0,766.6 1518.0,763.3" fill="none" stroke="#b030ff" stroke-width="7" stroke-linecap="round" stroke-linejoin="round" />
<path d="M1516.5,690.8C1514.7,686.0 1510.3,671.9 1505.9,662.2C1501.5,652.6 1492.6,637.8 1489.9,632.9" fill="none" stroke="#b030ff" stroke-width="7" stroke-linecap="round" stroke-linejoin="round" />
<path d="M1447.7,573.1C1446.3,567.3 1441.3,548.9 1439.5,538.4C1437.7,527.9 1437.5,514.6 1437.1,509.8" fill="none" stroke="#b030ff" stroke-width="7" stroke-linecap="round" stroke-linejoin="round" />
<path d="M1415.4,441.9C1408.6,433.6 1381.4,400.3 1374.6,392.0" fill="none" stroke="#b030ff" stroke-width="7" stroke-linecap="round" stroke-linejoin="round" /></g>
<g id="cbar"><rect x="1788.7" y="288.6" width="25.8" height="75.2" fill="#ff0000"/>
<rect x="1788.7" y="363.3" width="25.8" height="75.2" fill="#ff7000"/>
<rect x="1788.7" y="437.9" width="25.8" height="75.2" fill="#ffe600"/>
<rect x="1788.7" y="512.6" width="25.8" height="75.2" fill="#7cff00"/>
<rect x="1788.7" y="587.2" width="25.8" height="75.2" fill="#00f000"/>
<rect x="1788.7" y="661.9" width="25.8" height="75.2" fill="#00f7b4"/>
<rect x="1788.7" y="736.6" width="25.8" height="75.2" fill="#00c4dc"/>
<rect x="1788.7" y="811.2" width="25.8" height="75.2" fill="#0078ff"/>
<rect x="1788.7" y="885.9" width="25.8" height="75.2" fill="#0000c4"/>
<line x1="1786.5" y1="288.6" x2="1824" y2="288.6" stroke="#111" stroke-width="2"/>
<line x1="1786.5" y1="363.3" x2="1824" y2="363.3" stroke="#111" stroke-width="2"/>
<line x1="1786.5" y1="437.9" x2="1824" y2="437.9" stroke="#111" stroke-width="2"/>
<line x1="1786.5" y1="512.6" x2="1824" y2="512.6" stroke="#111" stroke-width="2"/>
<line x1="1786.5" y1="587.2" x2="1824" y2="587.2" stroke="#111" stroke-width="2"/>
<line x1="1786.5" y1="661.9" x2="1824" y2="661.9" stroke="#111" stroke-width="2"/>
<line x1="1786.5" y1="736.6" x2="1824" y2="736.6" stroke="#111" stroke-width="2"/>
<line x1="1786.5" y1="811.2" x2="1824" y2="811.2" stroke="#111" stroke-width="2"/>
<line x1="1786.5" y1="885.9" x2="1824" y2="885.9" stroke="#111" stroke-width="2"/>
<line x1="1786.5" y1="960.5" x2="1824" y2="960.5" stroke="#111" stroke-width="2"/></g>
<g id="arrows"><line x1="478.13814766289676" y1="467.5968175158385" x2="519.8158031161377" y2="1371.7042433122153" stroke="#000" stroke-width="7.2" stroke-linecap="round"/>
<line x1="777.0992306050528" y1="464.9731101378983" x2="660.2343591932631" y2="1331.935853149469" stroke="#000" stroke-width="7.2" stroke-linecap="round"/>
<line x1="1044.125775605394" y1="467.869796457569" x2="792.1656325261414" y2="1294.9736047232414" stroke="#000" stroke-width="7.2" stroke-linecap="round"/>
<line x1="1321.5915384769105" y1="241.82542127061583" x2="1055.644615364119" y2="986.9327716391789" stroke="#000" stroke-width="7.2" stroke-linecap="round"/>
<line x1="1878.9496700612945" y1="1146.5099892369105" x2="1394.9337732516074" y2="629.520014350786" stroke="#000" stroke-width="7.2" stroke-linecap="round"/>
<line x1="1543.0144378294733" y1="1341.6939702806742" x2="1042.1807495607025" y2="1391.0080396257679" stroke="#000" stroke-width="7.2" stroke-linecap="round"/>
<line x1="1542.0030474258715" y1="1527.1351860511475" x2="788.5959367655046" y2="1561.1197519318032" stroke="#000" stroke-width="7.2" stroke-linecap="round"/>
<line x1="1558.8019028183176" y1="1725.8931670032816" x2="591.9974629089099" y2="1691.4424439956244" stroke="#000" stroke-width="7.2" stroke-linecap="round"/>
<polyline points="493.5,1188.2 511.8,1220.6 528.6,1186.7" fill="none" stroke="#000" stroke-width="7.2" stroke-linecap="round" stroke-linejoin="round"/>
<polyline points="501.1,1340.0 520.0,1374.5 536.2,1338.1" fill="none" stroke="#000" stroke-width="7.2" stroke-linecap="round" stroke-linejoin="round"/>
<polyline points="647.1,1297.7 659.9,1334.7 681.8,1302.0" fill="none" stroke="#000" stroke-width="7.2" stroke-linecap="round" stroke-linejoin="round"/>
<polyline points="857.3,1022.1 864.4,1059.2 891.0,1032.2" fill="none" stroke="#000" stroke-width="7.2" stroke-linecap="round" stroke-linejoin="round"/>
<polyline points="784.9,1258.4 791.4,1297.7 819.1,1268.8" fill="none" stroke="#000" stroke-width="7.2" stroke-linecap="round" stroke-linejoin="round"/>
<polyline points="1050.6,949.5 1054.7,989.6 1084.3,962.7" fill="none" stroke="#000" stroke-width="7.2" stroke-linecap="round" stroke-linejoin="round"/>
<polyline points="1432.5,641.2 1393.0,627.5 1405.6,666.3" fill="none" stroke="#000" stroke-width="7.2" stroke-linecap="round" stroke-linejoin="round"/>
<polyline points="1074.8,1371.0 1039.4,1391.3 1078.5,1406.7" fill="none" stroke="#000" stroke-width="7.2" stroke-linecap="round" stroke-linejoin="round"/>
<polyline points="822.4,1542.4 785.8,1561.3 823.4,1577.5" fill="none" stroke="#000" stroke-width="7.2" stroke-linecap="round" stroke-linejoin="round"/>
<polyline points="627.2,1675.2 589.2,1691.4 624.7,1710.9" fill="none" stroke="#000" stroke-width="7.2" stroke-linecap="round" stroke-linejoin="round"/></g>
<g id="text" fill="#000" stroke="#000" stroke-width="0.9" stroke-linejoin="round"><text x="229.5" y="1758.8" font-size="61" text-anchor="end" >0</text>
<text x="229.5" y="1618.0" font-size="61" text-anchor="end" >10</text>
<text x="229.5" y="1477.2" font-size="61" text-anchor="end" >20</text>
<text x="229.5" y="1336.5" font-size="61" text-anchor="end" >30</text>
<text x="229.5" y="1195.7" font-size="61" text-anchor="end" >40</text>
<text x="229.5" y="1054.9" font-size="61" text-anchor="end" >50</text>
<text x="229.5" y="914.1" font-size="61" text-anchor="end" >60</text>
<text x="229.5" y="773.3" font-size="61" text-anchor="end" >70</text>
<text x="229.5" y="632.6" font-size="61" text-anchor="end" >80</text>
<text x="229.5" y="491.8" font-size="61" text-anchor="end" >90</text>
<text x="229.5" y="351.0" font-size="61" text-anchor="end" >100</text>
<text x="389.2" y="1869.2" font-size="61" text-anchor="middle" >0</text>
<text x="513.6" y="1869.2" font-size="61" text-anchor="middle" >1</text>
<text x="638.1" y="1869.2" font-size="61" text-anchor="middle" >2</text>
<text x="762.5" y="1869.2" font-size="61" text-anchor="middle" >3</text>
<text x="887.0" y="1869.2" font-size="61" text-anchor="middle" >4</text>
<text x="1011.5" y="1869.2" font-size="61" text-anchor="middle" >5</text>
<text x="1135.9" y="1869.2" font-size="61" text-anchor="middle" >6</text>
<text x="1260.3" y="1869.2" font-size="61" text-anchor="middle" >7</text>
<text x="1384.8" y="1869.2" font-size="61" text-anchor="middle" >8</text>
<text x="1509.2" y="1869.2" font-size="61" text-anchor="middle" >9</text>
<text y="1961.5" font-size="68.5"><tspan x="668.7" textLength="202.9" lengthAdjust="spacingAndGlyphs">Comp.</tspan> <tspan x="889.4" textLength="152.5" lengthAdjust="spacingAndGlyphs">Disp.</tspan> <tspan x="1063.1" textLength="163.4" lengthAdjust="spacingAndGlyphs">[mm]</tspan></text>
<text transform="translate(89.6,1348.2) rotate(-90)" font-size="68.5"><tspan x="-6.2" textLength="239.8" lengthAdjust="spacingAndGlyphs">Internal</tspan> <tspan x="255.0" textLength="223.2" lengthAdjust="spacingAndGlyphs">Energy,</tspan> <tspan x="498.2" textLength="51.0" lengthAdjust="spacingAndGlyphs">IE</tspan> <tspan x="572.4" textLength="65.3" lengthAdjust="spacingAndGlyphs">[J]</tspan></text>
<text y="179.2" font-size="61"><tspan x="1524.4" textLength="47.2" lengthAdjust="spacingAndGlyphs">IE</tspan> <tspan x="1590.3" textLength="100.3" lengthAdjust="spacingAndGlyphs">100</tspan> <tspan x="1706.4" textLength="17.9" lengthAdjust="spacingAndGlyphs">J</tspan></text>
<text y="346.3" font-size="61"><tspan x="1535.6" textLength="47.2" lengthAdjust="spacingAndGlyphs">IE</tspan> <tspan x="1600.3" textLength="67.3" lengthAdjust="spacingAndGlyphs">50</tspan> <tspan x="1682.3" textLength="18.8" lengthAdjust="spacingAndGlyphs">J</tspan></text>
<text y="1933.8" font-size="61"><tspan x="1614.5" textLength="47.2" lengthAdjust="spacingAndGlyphs">IE</tspan> <tspan x="1679.2" textLength="67.3" lengthAdjust="spacingAndGlyphs">50</tspan> <tspan x="1761.2" textLength="18.8" lengthAdjust="spacingAndGlyphs">J</tspan></text>
<text y="1937.8" font-size="61"><tspan x="1889.8" textLength="47.2" lengthAdjust="spacingAndGlyphs">IE</tspan> <tspan x="1955.7" textLength="100.3" lengthAdjust="spacingAndGlyphs">100</tspan> <tspan x="2071.8" textLength="17.9" lengthAdjust="spacingAndGlyphs">J</tspan></text>
<text x="1850.3" y="301.2" font-size="57.5" text-anchor="start" textLength="156" lengthAdjust="spacingAndGlyphs" fill="#0c0c0c" stroke="none">2.116</text>
<text x="1850.3" y="375.9" font-size="57.5" text-anchor="start" textLength="156" lengthAdjust="spacingAndGlyphs" fill="#0c0c0c" stroke="none">1.881</text>
<text x="1850.3" y="450.5" font-size="57.5" text-anchor="start" textLength="156" lengthAdjust="spacingAndGlyphs" fill="#0c0c0c" stroke="none">1.646</text>
<text x="1850.3" y="525.2" font-size="57.5" text-anchor="start" textLength="156" lengthAdjust="spacingAndGlyphs" fill="#0c0c0c" stroke="none">1.411</text>
<text x="1850.3" y="599.8" font-size="57.5" text-anchor="start" textLength="156" lengthAdjust="spacingAndGlyphs" fill="#0c0c0c" stroke="none">1.176</text>
<text x="1850.3" y="674.5" font-size="57.5" text-anchor="start" textLength="156" lengthAdjust="spacingAndGlyphs" fill="#0c0c0c" stroke="none">0.940</text>
<text x="1850.3" y="749.2" font-size="57.5" text-anchor="start" textLength="156" lengthAdjust="spacingAndGlyphs" fill="#0c0c0c" stroke="none">0.705</text>
<text x="1850.3" y="823.8" font-size="57.5" text-anchor="start" textLength="156" lengthAdjust="spacingAndGlyphs" fill="#0c0c0c" stroke="none">0.470</text>
<text x="1850.3" y="898.5" font-size="57.5" text-anchor="start" textLength="156" lengthAdjust="spacingAndGlyphs" fill="#0c0c0c" stroke="none">0.235</text>
<text x="1850.3" y="973.1" font-size="57.5" text-anchor="start" textLength="156" lengthAdjust="spacingAndGlyphs" fill="#0c0c0c" stroke="none">0.000</text></g>
</svg>
</body></html>
